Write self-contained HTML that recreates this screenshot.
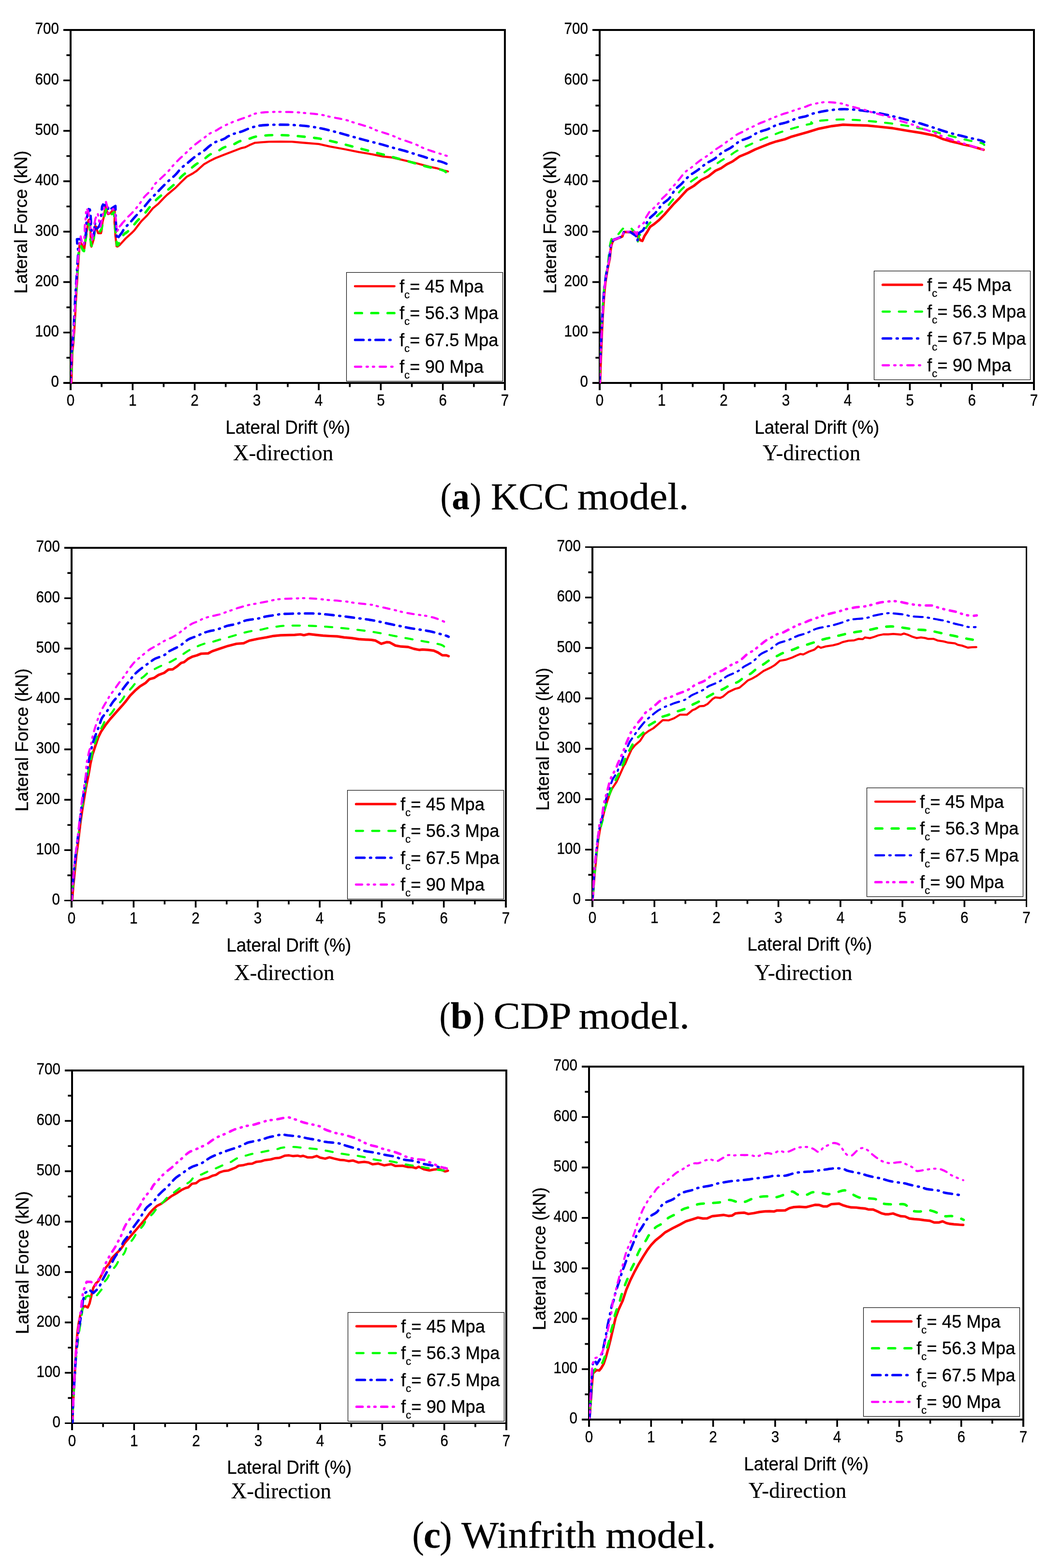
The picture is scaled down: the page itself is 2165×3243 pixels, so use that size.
<!DOCTYPE html>
<html lang="en">
<head>
<meta charset="utf-8">
<title>Lateral force versus lateral drift</title>
<style>
html,body{margin:0;padding:0;background:#fff}
body{width:2165px;height:3243px;overflow:hidden}
svg{display:block}
text{white-space:pre}
.a{font-family:"Liberation Sans",Arial,Helvetica,sans-serif;fill:#000;stroke:#000;stroke-width:.3px}
.s{font-family:"Liberation Serif","Times New Roman",Times,serif;fill:#000;stroke:#000;stroke-width:.2px}
.t{font-size:29.7px}
.l{font-size:36px}
.x{font-size:36.9px}
.y{font-size:36.7px}
.c{font-size:22px}
.d{font-size:45px}
.k{font-size:79px;stroke-width:.3px}
.ax{stroke:#000;stroke-width:3.6;fill:none;stroke-linecap:butt}
.cv{fill:none;stroke-linejoin:round;stroke-linecap:round}
</style>
</head>
<body>
<svg width="2165" height="3243" viewBox="0 0 2165 3243">
<rect width="2165" height="3243" fill="#fff"/>
<g>
<path fill="#000" d="M144 60H148V807H144ZM1042 60H1046V807H1042ZM131 60H1046V64H131ZM131 790H1046V794H131Z"/>
<path class="ax" d="M137.4 739.9h7.6M131 687.7h14M137.4 635.6h7.6M131 583.4h14M137.4 531.3h7.6M131 479.1h14M137.4 427h7.6M131 374.9h14M137.4 322.7h7.6M131 270.6h14M137.4 218.4h7.6M131 166.3h14M137.4 114.1h7.6M210.1 793v7.6M274.3 793v14M338.4 793v7.6M402.6 793v14M466.7 793v7.6M530.9 793v14M595 793v7.6M659.1 793v14M723.3 793v7.6M787.4 793v14M851.6 793v7.6M915.7 793v14M979.9 793v7.6"/>
<clipPath id="cp0"><rect x="145.9" y="62" width="898.1" height="730.9"/></clipPath>
<g class="cv" clip-path="url(#cp0)">
<path d="M147.8 791.3 L149.7 730 L152.3 704.4 L154.8 666.1 L157.4 615 L159.9 576.7 L161.9 544.7 L163.8 519.2 L164.5 502.6 L166.8 501.8 L169.8 507.1 L174.4 514.8 L176 503.3 L177.1 488 L179.8 476.5 L182.9 455.1 L185.9 453.6 L187.1 476.5 L187.8 507.1 L189 510.2 L193.6 495.7 L195.5 480.4 L197 467.3 L198.9 468.9 L201.2 478.1 L202.8 482.3 L208.9 482.3 L210.4 475 L211.9 459.7 L215 447.4 L217.3 430.6 L218.8 426 L221.1 436.7 L223.4 442.9 L228 441.3 L234.9 432.1 L237.6 429.1 L236.8 459.7 L238.7 488 L241 509.4 L243.3 509.8 L247.1 507.1 L260 493 L272 482.2 L277.9 476.3 L286.7 464.6 L292.6 457.2 L304.3 445.5 L316 430.8 L327.8 421.1 L339.5 408.8 L345.4 403 L363 388.3 L374.7 376.6 L386.4 365.4 L398.2 359 L407 353.1 L421.6 339.9 L433.4 333.1 L445.1 327.3 L462.7 320.2 L480.3 313.5 L497.9 306.7 L506.7 304.7 L515.5 300.3 L527.2 295.3 L539 294.4 L556.6 293.2 L580.1 292.9 L603.5 293.2 L624 295 L659.2 297.9 L682.7 303.2 L712 308.5 L741.4 314.4 L770.7 319.3 L791.2 323.7 L808.8 325.5 L829.4 330.2 L858.7 337 L888 344.9 L902.7 347.8 L917.4 352.5 L926.2 354.6" stroke="#ff0000" stroke-width="4.3"/>
<path d="M147 791.3 L148.9 730 L151.5 704.4 L154 666.1 L156.6 615 L159.1 576.7 L161.1 544.7 L163 519.2 L164.5 513.3 L166 507.1 L168.3 510.2 L171.4 517.9 L173.7 519.4 L176 503.3 L178.3 487.2 L179.8 476.5 L181.3 468.9 L183.6 463.5 L185.9 467.3 L185.9 488 L187.4 498 L189.7 510.2 L192 508.7 L193.6 495.7 L195.9 476.5 L197.4 475 L199.7 481.1 L203.5 481.1 L207.3 478.1 L210.4 472.7 L211.9 461.2 L214.2 453.6 L216.5 444.4 L219.6 432.9 L221.1 433.7 L222.7 441.3 L226.5 444 L230.3 443.6 L235.7 439 L237.6 461.2 L238.3 472.7 L240.3 491.8 L241.8 507.1 L244.1 507.1 L250.2 491.1 L260 481.1 L260.3 482.2 L272 471.9 C274 469.4 279.3 461.9 283.7 457 C288.2 452 294 447.3 298.4 442.4 C302.8 437.5 305.8 432.8 310.2 427.7 C314.6 422.6 319 417.1 324.8 411.6 C330.7 406 339 399.9 345.4 394.4 C351.7 389 358.1 383.6 363 378.8 C367.8 374.1 370.3 369.9 374.7 365.6 C379.1 361.4 384.5 357.4 389.4 353.3 C394.3 349.1 398.7 344.9 404 340.9 C409.4 336.9 416.7 333 421.6 329.5 C426.5 326.1 428.5 323 433.4 320.1 C438.3 317.2 446.1 314.7 451 312.2 C455.9 309.7 457.3 307.4 462.7 305.1 C468.1 302.9 477.9 300.7 483.2 298.5 C488.6 296.4 489.6 294.3 495 292.4 C500.4 290.4 510.1 288.5 515.5 286.9 C520.9 285.4 522.4 283.9 527.2 282.9 C532.1 281.8 539 281.1 544.8 280.5 C550.7 280 556.6 279.7 562.4 279.5 C568.3 279.3 574.2 279.4 580.1 279.5 C585.9 279.6 590.8 279.7 597.6 280.1 C604.4 280.6 611.3 281 621.1 282 C630.9 283 645 284.3 656.3 286.1 C667.5 287.9 677.8 290.2 688.5 292.7 C699.3 295.2 710.1 298.1 720.8 300.9 C731.6 303.7 742.3 306.6 753.1 309.4 C763.8 312.3 774.6 315.1 785.4 317.9 C796.1 320.7 806.9 323.5 817.6 326.4 C828.4 329.3 839.1 332.4 849.9 335.4 C860.7 338.4 871.4 341.8 882.2 344.5 C892.9 347.3 907.8 349.8 914.4 351.7 C921 353.6 920.6 355.3 921.8 356" stroke="#00ff00" stroke-width="5.1" stroke-dasharray="14.10 19.50" stroke-dashoffset="14.3"/>
<path d="M146 791.3 L147.9 730 L150.5 704.4 L153 666.1 L155.6 615 L158.1 576.7 L160.1 544.7 L162 519.2 L159.9 507.1 L159.1 494.9 L166 494.5 L173.7 504.8 L176 490.3 L177.5 484.2 L178.3 467.3 L179.8 449 L182.9 438.3 L184.4 427.2 L186.7 438.3 L187.4 447.4 L188.2 459.7 L187.4 471.2 L190.5 480.4 L193.6 487.2 L195.1 478.1 L195.9 459.7 L198.2 471.9 L200.5 472.7 L205.1 468.1 L208.9 458.2 L209.3 442.9 L211.2 426.8 L213.1 423 L215.4 425.3 L220.4 422.2 L223.4 424.5 L223.8 435.2 L238.7 426 L239.5 458.2 L241 482.7 L241.8 494.9 L252.5 480.4 L257.3 471.9 L269.1 460.2 C271 457.9 276.4 451.6 280.8 446.8 C285.2 441.9 290.6 436.7 295.5 431.1 C300.4 425.5 304.8 419.4 310.2 413.4 C315.5 407.4 321.9 401 327.8 395 C333.6 388.9 339.5 382.8 345.4 377.1 C351.2 371.5 358.1 366.2 363 361.3 C367.8 356.4 370.3 352.1 374.7 347.9 C379.1 343.6 384.5 339.9 389.4 335.8 C394.3 331.8 398.7 327.6 404 323.6 C409.4 319.6 416.7 315.4 421.6 311.8 C426.5 308.2 429.5 304.8 433.4 301.9 C437.3 298.9 440.2 296.4 445.1 294 C450 291.6 458.3 289.5 462.7 287.5 C467.1 285.5 468.1 283.9 471.5 282.1 C474.9 280.3 478.3 278.7 483.2 276.9 C488.1 275.2 496 273.3 500.8 271.6 C505.7 269.9 508.7 268.1 512.6 266.6 C516.5 265.1 520.4 263.7 524.3 262.6 C528.2 261.5 531.6 260.6 536 259.9 C540.4 259.3 545.8 258.9 550.7 258.6 C555.6 258.2 560.5 258.1 565.4 258 C570.3 257.9 574.7 257.9 580.1 257.9 C585.4 257.9 592.7 258 597.6 258.1 C602.5 258.3 604 258.4 609.3 258.8 C614.7 259.1 623 259.6 629.9 260.3 C636.7 261 643.6 261.9 650.4 263.1 C657.3 264.2 664.1 265.6 670.9 267.1 C677.8 268.7 684.6 270.4 691.5 272.2 C698.3 274 705.2 275.9 712 277.9 C718.9 279.8 725.7 281.8 732.6 283.7 C739.4 285.7 746.2 287.5 753.1 289.4 C759.9 291.2 766.8 292.9 773.6 294.7 C780.5 296.4 787.6 298.2 794.2 300.1 C800.8 302 806.4 303.9 813.2 305.8 C820.1 307.7 828.4 309.6 835.2 311.5 C842.1 313.5 847.7 315.4 854.3 317.5 C860.9 319.5 868.2 321.7 874.8 323.8 C881.4 325.9 887.3 328.1 893.9 330 C900.5 331.9 909.5 333.6 914.4 335.1 C919.4 336.6 922.3 338.4 923.8 339" stroke="#0000ff" stroke-width="5.1" stroke-dasharray="17.40 11.50 2.10 11.20" stroke-dashoffset="7.0"/>
<path d="M146.6 791.3 L148.5 730 L151.1 704.4 L153.6 666.1 L156.2 615 L158.7 576.7 L160.7 544.7 L162.6 519.2 L164.5 510.2 L166.8 488.8 L169.1 499.5 L172.9 507.1 L175.2 482.7 L175.2 468.9 L176.7 457.4 L177.5 444.4 L178.3 430.6 L181.3 434.4 L184.4 446.7 L185.9 460.5 L187.4 472.7 L189 484.2 L191.3 491.8 L189.7 498 L193.6 476.5 L195.1 463.5 L197.4 452 L202 441.3 L204.3 452 L205.8 465.1 L208.1 468.9 L211.2 453.6 L213.5 439.8 L215.8 429.1 L219.2 417.6 L222.3 429.1 L224.2 441.3 L234.1 432.1 L237.6 439 L239.5 452 L241 468.9 L241.8 478.8 L247.1 470.4 L254.4 459.7 L245.6 470.4 L254.4 460.2 L263.2 449.9 C264.7 448.5 269.1 444.4 272 441.4 C274.9 438.3 277.9 435.1 280.8 431.6 C283.7 428 286.7 424.2 289.6 420.1 C292.6 416.1 294.8 411.7 298.4 407.3 C302.1 402.9 308 398.3 311.6 393.9 C315.3 389.4 316.8 385.1 320.4 380.8 C324.1 376.5 329.2 372.2 333.6 368 C338 363.8 342.9 359.6 346.8 355.5 C350.7 351.4 353.4 347.4 357.1 343.3 C360.8 339.2 364.7 335 368.8 330.9 C373 326.8 377.9 322.7 382 318.7 C386.2 314.8 389.6 311 393.8 307.3 C397.9 303.5 402.3 299.8 407 296.2 C411.6 292.5 417.2 288.8 421.6 285.5 C426 282.2 429 279.1 433.4 276.4 C437.8 273.7 444.1 271.5 448 269.3 C451.9 267.2 453.7 265.6 456.8 263.8 C460 262 463.2 260.4 467.1 258.6 C471 256.8 475.2 254.9 480.3 252.8 C485.4 250.8 492 248.5 497.9 246.3 C503.8 244.2 510.6 241.8 515.5 239.9 C520.4 238 522.4 236.3 527.2 235.1 C532.1 233.9 538.5 233.1 544.8 232.5 C551.2 232 559.5 231.7 565.4 231.5 C571.2 231.3 574.7 231.3 580.1 231.3 C585.4 231.4 591.5 231.5 597.6 231.7 C603.7 231.9 611.3 232.1 616.7 232.5 C622 232.8 624.5 233.2 629.9 233.7 C635.3 234.2 642.7 234.7 648.9 235.4 C655.2 236.1 661.9 236.9 667.1 237.9 C672.4 238.8 675.1 239.9 680.3 241.1 C685.6 242.2 692.7 243.4 698.8 244.7 C704.9 246 711.8 247.2 717 248.6 C722.2 250 725.1 251.4 730.2 253 C735.3 254.7 741.9 256.5 747.8 258.3 C753.7 260.1 760.6 262.1 765.7 264 C770.8 265.9 773.4 267.8 778.6 269.7 C783.8 271.7 791.3 273.7 797.1 275.6 C802.9 277.5 808.6 279.5 813.5 281.4 C818.4 283.3 821.3 285 826.4 287 C831.5 288.9 838.2 290.9 844 293 C849.9 295.1 856.4 297.3 861.6 299.5 C866.8 301.7 869.8 303.9 875.1 306.1 C880.4 308.3 887.3 310.6 893.3 312.6 C899.4 314.7 906.2 316.7 911.5 318.4 C916.8 320.1 923 322.1 925.3 322.9" stroke="#ff00ff" stroke-width="4.3" stroke-dasharray="13.20 10.80 2.90 10.10 2.90 11.20" stroke-dashoffset="5.8"/>
</g>
<text class="a t" transform="translate(122 800.4) scale(1 1.13)" text-anchor="end">0</text>
<text class="a t" transform="translate(122 696.1) scale(1 1.13)" text-anchor="end">100</text>
<text class="a t" transform="translate(122 591.8) scale(1 1.13)" text-anchor="end">200</text>
<text class="a t" transform="translate(122 487.5) scale(1 1.13)" text-anchor="end">300</text>
<text class="a t" transform="translate(122 383.3) scale(1 1.13)" text-anchor="end">400</text>
<text class="a t" transform="translate(122 279) scale(1 1.13)" text-anchor="end">500</text>
<text class="a t" transform="translate(122 174.7) scale(1 1.13)" text-anchor="end">600</text>
<text class="a t" transform="translate(122 70.4) scale(1 1.13)" text-anchor="end">700</text>
<text class="a t" transform="translate(146 839.4) scale(1 1.13)" text-anchor="middle">0</text>
<text class="a t" transform="translate(274.3 839.4) scale(1 1.13)" text-anchor="middle">1</text>
<text class="a t" transform="translate(402.6 839.4) scale(1 1.13)" text-anchor="middle">2</text>
<text class="a t" transform="translate(530.9 839.4) scale(1 1.13)" text-anchor="middle">3</text>
<text class="a t" transform="translate(659.1 839.4) scale(1 1.13)" text-anchor="middle">4</text>
<text class="a t" transform="translate(787.4 839.4) scale(1 1.13)" text-anchor="middle">5</text>
<text class="a t" transform="translate(915.7 839.4) scale(1 1.13)" text-anchor="middle">6</text>
<text class="a t" transform="translate(1044 839.4) scale(1 1.13)" text-anchor="middle">7</text>
<text class="a x" transform="translate(595.3 896.8) scale(1 1.03)" text-anchor="middle">Lateral Drift (%)</text>
<text class="a y" transform="translate(56 459.3) rotate(-90) scale(1 1.03)" text-anchor="middle">Lateral Force (kN)</text>
<rect x="716.5" y="563.5" width="323" height="225" fill="#fff" stroke="#000" stroke-width="1.15"/>
<path class="cv" d="M733.9 592 h81.9" stroke="#ff0000" stroke-width="4.3"/>
<text class="a l" transform="translate(826 604.5) scale(1.012 1.04)">f<tspan class="c" dy="11.7">c</tspan><tspan dy="-11.7">= 45 Mpa</tspan></text>
<path class="cv" d="M734.3 647.5 h81.1" stroke="#00ff00" stroke-width="5.1" stroke-dasharray="14.10 19.50"/>
<text class="a l" transform="translate(826 660) scale(1.012 1.04)">f<tspan class="c" dy="11.7">c</tspan><tspan dy="-11.7">= 56.3 Mpa</tspan></text>
<path class="cv" d="M734.3 703 h73.2" stroke="#0000ff" stroke-width="5.1" stroke-dasharray="17.40 11.50 2.10 11.20"/>
<text class="a l" transform="translate(826 715.5) scale(1.012 1.04)">f<tspan class="c" dy="11.7">c</tspan><tspan dy="-11.7">= 67.5 Mpa</tspan></text>
<path class="cv" d="M733.9 758.5 h77.9" stroke="#ff00ff" stroke-width="4.3" stroke-dasharray="13.20 10.80 2.90 10.10 2.90 11.20"/>
<text class="a l" transform="translate(826 771) scale(1.012 1.04)">f<tspan class="c" dy="11.7">c</tspan><tspan dy="-11.7">= 90 Mpa</tspan></text>
<text class="s d" transform="translate(481.9 951.9) scale(1 1.035)">X-direction</text>
</g>
<g>
<path fill="#000" d="M1238 60H1242V807H1238ZM2136 60H2140V807H2136ZM1225 60H2140V64H1225ZM1225 790H2140V794H1225Z"/>
<path class="ax" d="M1231.4 739.9h7.6M1225 687.7h14M1231.4 635.6h7.6M1225 583.4h14M1231.4 531.3h7.6M1225 479.1h14M1231.4 427h7.6M1225 374.9h14M1231.4 322.7h7.6M1225 270.6h14M1231.4 218.4h7.6M1225 166.3h14M1231.4 114.1h7.6M1304.1 793v7.6M1368.3 793v14M1432.4 793v7.6M1496.6 793v14M1560.7 793v7.6M1624.9 793v14M1689 793v7.6M1753.1 793v14M1817.3 793v7.6M1881.4 793v14M1945.6 793v7.6M2009.7 793v14M2073.9 793v7.6"/>
<clipPath id="cp1"><rect x="1239.9" y="62" width="898.1" height="730.9"/></clipPath>
<g class="cv" clip-path="url(#cp1)">
<path d="M1240.8 791.1 L1241.6 762 L1243.1 723.6 L1244.7 685.3 L1246.2 654.7 L1247.7 631.7 L1249.3 608.7 L1251.6 585.7 L1253.9 570.3 L1256.2 556.5 L1258.5 545.8 L1260.8 535.1 L1262.3 519.7 L1263.8 509 L1266.1 501.3 L1269.2 496 L1276.1 493.7 L1286.8 489.1 L1290.1 479.8 L1312.1 479.8 L1318 488 L1323.9 496.8 L1328.3 498.3 L1332.7 488 L1338.5 479.2 L1344.4 469 L1353.2 463.1 L1362 455.8 L1373.7 444 L1382.6 433.8 L1394.3 420.6 L1406 408.8 L1420.7 392.7 L1435.4 383.9 L1450 372.2 L1464.7 364.8 L1479.4 353.1 L1491.1 347.8 L1502.8 339.9 L1514.6 334 L1529.2 323.7 L1546.8 316.4 L1561.5 309.1 L1576.2 303.2 L1590.8 297.3 L1605.5 292.4 L1623.1 288 L1634.8 283.3 L1652.4 278.3 L1670.1 273.3 L1693.5 266.1 L1719.9 260.8 L1743.3 257.9 L1766.8 258.8 L1793.2 259.6 L1816.7 262 L1846 265.2 L1875.4 270.2 L1904.7 274.9 L1922.3 278.4 L1934 280.8 L1948.7 287.2 L1963.4 291.6 L1978 295.1 L1992.7 299 L2007.4 301.9 L2022 306.3 L2033.8 309.8" stroke="#ff0000" stroke-width="5.2"/>
<path d="M1239.5 791.1 L1240.3 762 L1241.8 723.6 L1243.4 685.3 L1244.9 654.7 L1246.4 631.7 L1248 608.7 L1250.3 585.7 L1252.6 570.3 L1254.9 556.5 L1257.2 545.8 L1259.2 525.9 L1260.2 513.6 L1262.5 501.3 L1265.6 490.6 L1277.9 485.2 L1287.8 473 L1303.9 470.7 L1312.4 480.2 L1314.7 490.6 L1318.5 501.3 L1321.6 487.5 L1331.5 478.3 L1339.2 466.1 L1351.7 452.8 C1353.9 450.9 1360.5 445.2 1364.9 441.2 C1369.3 437.2 1374.2 433.1 1378.2 429 C1382.1 424.9 1385 420.7 1388.4 416.6 C1391.8 412.5 1395.3 408.4 1398.7 404.4 C1402.1 400.3 1405 396.2 1409 392.2 C1412.9 388.2 1417.5 384.2 1422.2 380.5 C1426.8 376.8 1431.9 373.3 1436.8 369.9 C1441.7 366.5 1446.8 363.4 1451.5 360.2 C1456.1 357 1460.3 354 1464.7 350.9 C1469.1 347.8 1473.5 344.8 1477.9 341.7 C1482.3 338.6 1486.2 335.5 1491.1 332.4 C1496 329.3 1502.3 326.2 1507.2 323.1 C1512.1 320.1 1515.5 317 1520.4 314 C1525.3 311.1 1531.2 308.2 1536.6 305.6 C1541.9 302.9 1547.6 300.5 1552.7 298.2 C1557.8 295.8 1562.2 293.7 1567.4 291.5 C1572.5 289.3 1578.1 287.1 1583.5 285 C1588.9 282.9 1594.5 280.9 1599.6 278.9 C1604.8 277 1609.2 275.1 1614.3 273.3 C1619.4 271.6 1625.1 269.9 1630.4 268.3 C1635.8 266.6 1641.2 265 1646.6 263.5 C1652 261.9 1657.3 260.4 1662.7 259.1 C1668.1 257.7 1676.2 256.6 1678.9 255.5 C1681.5 254.4 1674.7 253.4 1678.8 252.3 C1682.9 251.2 1694 249.8 1703.7 249 C1713.5 248.1 1726.5 247.4 1737.5 247.2 C1748.5 247.1 1758.7 247.6 1769.7 248.2 C1780.7 248.8 1792.2 249.9 1803.5 251 C1814.7 252 1826 253.3 1837.2 254.7 C1848.5 256.1 1860 257.7 1871 259.5 C1882 261.3 1892.5 263.4 1903.2 265.7 C1914 267.9 1924.7 270.6 1935.5 273.2 C1946.3 275.9 1957 279 1967.8 281.7 C1978.5 284.4 1989.8 287.4 2000 289.7 C2010.3 292.1 2023.5 294.2 2029.4 295.9 C2035.2 297.5 2034.3 299.2 2035.2 299.8" stroke="#00ff00" stroke-width="4.3" stroke-dasharray="14.90 18.70" stroke-dashoffset="18.9"/>
<path d="M1240 791.1 L1240.8 762 L1242.3 723.6 L1243.9 685.3 L1245.4 654.7 L1246.9 631.7 L1248.5 608.7 L1250.8 585.7 L1253.1 570.3 L1255.4 556.5 L1257.7 545.8 L1260 535.1 L1261.5 519.7 L1263 509 L1265.3 501.3 L1268.4 496 L1275.3 493.7 L1286 489.1 L1290.1 479.8 L1303.3 479.8 L1315.1 488 L1318 498.3 L1320.9 482.2 L1329.7 476.3 L1335.6 464.6 L1341.5 452.8 L1354.7 441.1 C1355.9 439.6 1359.6 435.3 1362 432.2 C1364.5 429.1 1365.9 425.7 1369.3 422.3 C1372.8 418.9 1379.1 415.3 1382.6 411.8 C1386 408.3 1387.4 404.8 1389.9 401.3 C1392.3 397.9 1394 394.4 1397.2 390.9 C1400.4 387.4 1405.5 383.9 1409 380.5 C1412.4 377.2 1414.6 374 1417.8 370.8 C1420.9 367.7 1424.1 364.7 1428 361.7 C1431.9 358.8 1437.3 355.8 1441.2 353 C1445.1 350.3 1448.1 347.6 1451.5 345 C1454.9 342.3 1457.6 339.8 1461.8 337.1 C1465.9 334.5 1472.4 331.8 1476.4 329.2 C1480.4 326.6 1482.6 324.1 1485.8 321.5 C1489 319 1491.4 316.6 1495.5 314 C1499.6 311.4 1506 308.8 1510.2 306.2 C1514.3 303.6 1517 301 1520.4 298.6 C1523.9 296.1 1526.1 293.7 1530.7 291.5 C1535.3 289.2 1543.7 287 1548.3 284.9 C1552.9 282.8 1555.1 280.8 1558.6 278.8 C1562 276.9 1564.2 275 1568.8 273.2 C1573.5 271.3 1581.8 269.5 1586.4 267.7 C1591.1 266 1593 264.2 1596.7 262.6 C1600.4 260.9 1603.6 259.3 1608.4 257.7 C1613.3 256.2 1621.2 254.6 1626 253.1 C1630.9 251.6 1634.1 250.1 1637.8 248.7 C1641.4 247.2 1643.2 245.9 1648 244.5 C1652.9 243.1 1662.1 241.7 1667.1 240.2 C1672.1 238.8 1673.1 237.2 1678.2 235.7 C1683.3 234.2 1691 232.5 1697.9 231.1 C1704.7 229.7 1712.2 228.3 1719.3 227.5 C1726.4 226.6 1733.5 226 1740.4 225.9 C1747.4 225.7 1754.1 225.9 1760.9 226.4 C1767.8 226.8 1774.4 227.6 1781.5 228.5 C1788.6 229.4 1796.4 230.5 1803.5 231.6 C1810.6 232.8 1817.1 234.1 1824 235.5 C1831 236.9 1838.1 238.5 1845.1 240.2 C1852.1 241.8 1859.1 243.6 1866 245.4 C1872.9 247.2 1879.6 249 1886.5 250.8 C1893.4 252.7 1900.8 254.6 1907.6 256.7 C1914.5 258.7 1921 261 1927.6 263.1 C1934.2 265.3 1940.6 267.6 1947.2 269.7 C1953.8 271.8 1960.3 273.8 1967.2 275.7 C1974 277.6 1981.4 279.4 1988.3 281.1 C1995.2 282.8 2002.3 284.5 2008.8 286 C2015.3 287.6 2022.9 289 2027.3 290.3 C2031.7 291.5 2033.9 293.1 2035.2 293.7" stroke="#0000ff" stroke-width="5.1" stroke-dasharray="17.40 11.50 2.10 11.20" stroke-dashoffset="0.3"/>
<path d="M1240.3 791.1 L1241.1 762 L1242.6 723.6 L1244.2 685.3 L1245.7 654.7 L1247.2 631.7 L1248.8 608.7 L1251.1 585.7 L1253.4 570.3 L1255.7 556.5 L1258 545.8 L1260.3 535.1 L1261.8 519.7 L1263.3 509 L1265.6 501.3 L1268.7 496 L1275.6 493.7 L1286.3 489.1 L1290.1 479.2 L1312.1 479.2 L1316.5 485.1 L1319.5 471.9 L1323.3 464.6 L1331.2 461.6 L1335.6 449.9 L1342.9 438.2 L1350.3 431.7 C1352 430.1 1357.6 425.2 1360.5 421.9 C1363.5 418.6 1364.9 415.4 1367.9 412.1 C1370.8 408.9 1375.2 405.6 1378.2 402.2 C1381.1 398.9 1382.7 395.5 1385.5 392.2 C1388.3 388.8 1391.9 385.5 1394.9 382.2 C1397.8 378.9 1400.5 375.7 1403.1 372.5 C1405.7 369.4 1407.9 366.3 1410.4 363.3 C1413 360.3 1415.1 357.4 1418.3 354.5 C1421.6 351.7 1426.5 348.9 1430.1 346.1 C1433.6 343.4 1436.4 340.7 1439.8 338.1 C1443.1 335.5 1446.4 332.9 1450 330.3 C1453.7 327.8 1458.1 325.3 1461.8 322.8 C1465.4 320.3 1468.6 317.7 1472 315.2 C1475.5 312.6 1478.6 310 1482.3 307.5 C1486 304.9 1490.5 302.5 1494 300 C1497.6 297.6 1500.1 295.2 1503.4 292.8 C1506.7 290.4 1510.7 287.9 1514 285.6 C1517.3 283.2 1519.6 280.8 1523.4 278.6 C1527.1 276.3 1532.5 274.2 1536.6 272.1 C1540.6 270 1543.8 268.1 1547.7 266.1 C1551.6 264.2 1556.3 262.3 1560 260.5 C1563.8 258.7 1566.4 257 1570.3 255.3 C1574.2 253.6 1579.4 252 1583.5 250.3 C1587.6 248.6 1590.7 246.9 1594.7 245.3 C1598.6 243.6 1603 242 1607 240.4 C1611 238.9 1614.6 237.4 1618.7 236 C1622.9 234.6 1627.9 233.3 1631.9 231.9 C1636 230.6 1639.1 229.2 1643.1 227.9 C1647.1 226.5 1652 225.1 1656 223.9 C1660 222.6 1663.8 221.5 1667.1 220.3 C1670.4 219.1 1671.8 217.9 1675.9 216.7 C1679.9 215.6 1686.5 214.2 1691.4 213.3 C1696.3 212.4 1699.8 211.6 1705.2 211.3 C1710.6 211.1 1717.5 211.4 1723.7 212 C1729.9 212.5 1737.2 213.6 1742.5 214.7 C1747.7 215.8 1750 217.3 1755.1 218.7 C1760.1 220.2 1766.7 221.9 1772.7 223.5 C1778.6 225 1785.6 226.6 1790.9 228.1 C1796.1 229.7 1798.8 231.1 1804.1 232.7 C1809.3 234.2 1816.5 235.8 1822.6 237.5 C1828.6 239.1 1835.1 240.7 1840.2 242.4 C1845.2 244.1 1847.6 245.7 1852.8 247.4 C1857.9 249.2 1864.9 251 1871 252.8 C1877 254.6 1883.7 256.5 1888.9 258.4 C1894 260.3 1896.5 262.1 1901.8 264.1 C1907 266.1 1914.3 268.2 1920.2 270.3 C1926.2 272.3 1932.6 274.5 1937.6 276.6 C1942.5 278.6 1945.1 280.7 1950.2 282.7 C1955.2 284.7 1961.9 286.7 1967.8 288.6 C1973.6 290.5 1980.1 292.4 1985.4 294.1 C1990.6 295.9 1994 297.4 1999.2 299.1 C2004.3 300.8 2010.4 302.4 2016.2 304.2 C2021.9 306 2030.8 308.9 2033.8 309.8" stroke="#ff00ff" stroke-width="4.3" stroke-dasharray="13.20 10.80 2.90 10.10 2.90 11.20" stroke-dashoffset="9.2"/>
</g>
<text class="a t" transform="translate(1216 800.4) scale(1 1.13)" text-anchor="end">0</text>
<text class="a t" transform="translate(1216 696.1) scale(1 1.13)" text-anchor="end">100</text>
<text class="a t" transform="translate(1216 591.8) scale(1 1.13)" text-anchor="end">200</text>
<text class="a t" transform="translate(1216 487.5) scale(1 1.13)" text-anchor="end">300</text>
<text class="a t" transform="translate(1216 383.3) scale(1 1.13)" text-anchor="end">400</text>
<text class="a t" transform="translate(1216 279) scale(1 1.13)" text-anchor="end">500</text>
<text class="a t" transform="translate(1216 174.7) scale(1 1.13)" text-anchor="end">600</text>
<text class="a t" transform="translate(1216 70.4) scale(1 1.13)" text-anchor="end">700</text>
<text class="a t" transform="translate(1240 839.4) scale(1 1.13)" text-anchor="middle">0</text>
<text class="a t" transform="translate(1368.3 839.4) scale(1 1.13)" text-anchor="middle">1</text>
<text class="a t" transform="translate(1496.6 839.4) scale(1 1.13)" text-anchor="middle">2</text>
<text class="a t" transform="translate(1624.9 839.4) scale(1 1.13)" text-anchor="middle">3</text>
<text class="a t" transform="translate(1753.1 839.4) scale(1 1.13)" text-anchor="middle">4</text>
<text class="a t" transform="translate(1881.4 839.4) scale(1 1.13)" text-anchor="middle">5</text>
<text class="a t" transform="translate(2009.7 839.4) scale(1 1.13)" text-anchor="middle">6</text>
<text class="a t" transform="translate(2138 839.4) scale(1 1.13)" text-anchor="middle">7</text>
<text class="a x" transform="translate(1689.3 896.8) scale(1 1.03)" text-anchor="middle">Lateral Drift (%)</text>
<text class="a y" transform="translate(1150 459.3) rotate(-90) scale(1 1.03)" text-anchor="middle">Lateral Force (kN)</text>
<rect x="1807.5" y="560.5" width="323" height="225" fill="#fff" stroke="#000" stroke-width="1.15"/>
<path class="cv" d="M1825.4 589 h81" stroke="#ff0000" stroke-width="5.2"/>
<text class="a l" transform="translate(1917 601.5) scale(1.012 1.04)">f<tspan class="c" dy="11.7">c</tspan><tspan dy="-11.7">= 45 Mpa</tspan></text>
<path class="cv" d="M1825 644.5 h81.9" stroke="#00ff00" stroke-width="4.3" stroke-dasharray="14.90 18.70"/>
<text class="a l" transform="translate(1917 657) scale(1.012 1.04)">f<tspan class="c" dy="11.7">c</tspan><tspan dy="-11.7">= 56.3 Mpa</tspan></text>
<path class="cv" d="M1825.3 700 h73.2" stroke="#0000ff" stroke-width="5.1" stroke-dasharray="17.40 11.50 2.10 11.20"/>
<text class="a l" transform="translate(1917 712.5) scale(1.012 1.04)">f<tspan class="c" dy="11.7">c</tspan><tspan dy="-11.7">= 67.5 Mpa</tspan></text>
<path class="cv" d="M1825 755.5 h77.9" stroke="#ff00ff" stroke-width="4.3" stroke-dasharray="13.20 10.80 2.90 10.10 2.90 11.20"/>
<text class="a l" transform="translate(1917 768) scale(1.012 1.04)">f<tspan class="c" dy="11.7">c</tspan><tspan dy="-11.7">= 90 Mpa</tspan></text>
<text class="s d" transform="translate(1576.9 951.9) scale(1 1.035)">Y-direction</text>
</g>
<g>
<path fill="#000" d="M146 1131H150V1877H146ZM1044 1131H1048V1877H1044ZM133 1131H1048V1135H133ZM133 1861H1048V1864H133Z"/>
<path class="ax" d="M139.4 1810.4h7.6M133 1758.3h14M139.4 1706.2h7.6M133 1654.1h14M139.4 1602h7.6M133 1549.9h14M139.4 1497.8h7.6M133 1445.6h14M139.4 1393.5h7.6M133 1341.4h14M139.4 1289.3h7.6M133 1237.2h14M139.4 1185.1h7.6M212.1 1863v7.6M276.3 1863v14M340.4 1863v7.6M404.6 1863v14M468.7 1863v7.6M532.9 1863v14M597 1863v7.6M661.1 1863v14M725.3 1863v7.6M789.4 1863v14M853.6 1863v7.6M917.7 1863v14M981.9 1863v7.6"/>
<clipPath id="cp2"><rect x="147.9" y="1133" width="898.1" height="730.4"/></clipPath>
<g class="cv" clip-path="url(#cp2)">
<path d="M149.2 1861.1 L151.5 1832 L154.6 1801.3 L157.6 1770.6 L160.7 1747.6 L163.8 1721.6 L166.8 1697.1 L170.7 1671 L174.5 1648 L177.6 1629.6 L180.6 1614.3 L183.7 1598.9 L186.9 1580 L191.3 1560.3 L197.2 1542.7 L203.1 1525.1 L208.9 1513.4 L217.7 1500.2 L228 1487 L239.7 1473.8 L251.5 1460.6 L260.3 1450.3 L269.1 1438.6 L279.3 1428.3 L289.6 1419.5 L301.4 1412.2 L308.7 1404.8 L319 1401.9 L327.8 1396 L339.5 1391.6 L348.3 1384.9 L357.1 1384.3 L365.9 1378.4 L374.7 1371.1 L380.6 1369.6 L389.4 1362.3 L398.2 1357.9 L407 1355.5 L415.8 1352 L430.4 1351.4 L439.2 1346.7 L453.9 1341.7 L471.5 1335.9 L489.1 1331.5 L503.8 1330.3 L515.5 1325 L533.1 1321.2 L550.7 1318.3 L565.4 1315.3 L580.1 1313.9 L609.3 1313.1 L621.1 1312 L628.4 1313.7 L638.7 1311.4 L653.3 1313.1 L668 1314.6 L682.7 1315.5 L697.3 1316.1 L712 1318.4 L726.7 1319.6 L741.4 1321.9 L756 1322.8 L767.8 1323.4 L776.6 1324.9 L788.3 1331.6 L800 1328.1 L805.9 1328.7 L817.6 1335.1 L829.4 1337.2 L844 1338.1 L855.8 1341.9 L867.5 1344.2 L873.4 1343.4 L885.1 1344.2 L896.8 1345.7 L905.6 1349.5 L914.4 1355.1 L923.2 1355.4 L927.6 1357.1" stroke="#ff0000" stroke-width="5.2"/>
<path d="M148.4 1861.1 L150.7 1832 L153.5 1801.3 L156.6 1770.6 L159.6 1747.6 L162.7 1721.6 L166.1 1697.1 L169.6 1671 L173.4 1648 L176.8 1626.5 L179.6 1612.7 L183.7 1586.7 L186.4 1580 L190.5 1557.4 L195.2 1541.2 L200.1 1526.6 C201.3 1524 204.7 1515.8 206.9 1511.2 C209.1 1506.5 211.3 1502.7 213.3 1498.7 C215.4 1494.7 216.3 1491.4 219.2 1487.3 C222.1 1483.3 227.5 1478.8 230.9 1474.5 C234.4 1470.2 236.3 1465.9 239.7 1461.7 C243.2 1457.4 248.1 1453.2 251.5 1448.8 C254.9 1444.5 256.9 1440 260.3 1435.6 C263.7 1431.3 268.3 1426.9 272 1422.8 C275.7 1418.6 278.1 1414.6 282.3 1410.7 C286.4 1406.8 292.8 1402.8 297 1399.5 C301.1 1396.1 303.3 1393.1 307.2 1390.4 C311.1 1387.8 315.8 1385.8 320.4 1383.5 C325.1 1381.1 329.7 1378.7 335.1 1376.3 C340.5 1373.8 347.6 1371.2 352.7 1368.7 C357.8 1366.2 361.5 1363.9 365.9 1361.3 C370.3 1358.6 374.7 1355.6 379.1 1352.7 C383.5 1349.9 387.4 1346.7 392.3 1344 C397.2 1341.3 403.3 1338.8 408.4 1336.7 C413.6 1334.5 417.7 1332.8 423.1 1331.2 C428.5 1329.6 435.3 1328.5 440.7 1327.1 C446.1 1325.6 450 1324.1 455.4 1322.6 C460.7 1321.1 467.3 1319.4 473 1317.8 C478.6 1316.2 483.7 1314.6 489.1 1313.1 C494.5 1311.5 500.1 1309.7 505.2 1308.4 C510.4 1307.1 514.3 1306.2 519.9 1305.1 C525.5 1304.1 533.4 1303.4 539 1302.4 C544.6 1301.3 548.3 1300.1 553.6 1299.1 C559 1298 565.6 1296.9 571.2 1296.1 C576.9 1295.3 580.5 1294.7 587.4 1294.3 C594.2 1293.9 602.5 1293.8 612.3 1293.8 C622 1293.8 634.8 1294.1 646 1294.5 C657.3 1295 668.5 1295.7 679.7 1296.6 C691 1297.4 702.2 1298.5 713.5 1299.6 C724.7 1300.8 736 1302.1 747.2 1303.6 C758.5 1305.1 770 1306.7 781 1308.6 C792 1310.4 802.5 1312.7 813.2 1314.8 C824 1316.8 834.6 1318.9 845.5 1320.9 C856.4 1322.9 867.6 1324.9 878.4 1326.9 C889.1 1328.8 903.3 1331.1 910 1332.9 C916.8 1334.6 917.4 1336.7 918.8 1337.5" stroke="#00ff00" stroke-width="4.3" stroke-dasharray="14.90 18.70" stroke-dashoffset="8.5"/>
<path d="M148.4 1861.1 L150.4 1832 L153 1801.3 L156.1 1770.6 L159.2 1747.6 L161.9 1724.7 L165.3 1697.1 L168.4 1671 L171.4 1651.1 L174.5 1632.7 L177.6 1608.1 L180.6 1591.3 L182.5 1580 L185.5 1563.2 L188.4 1551.5 L191.3 1538.3 L195.7 1525.1 L201.6 1510.4 C202.3 1508.4 204.5 1502.4 206 1498.3 C207.5 1494.2 208.2 1489.9 210.4 1485.9 C212.6 1481.8 216.5 1477.8 219.2 1474 C221.9 1470.1 224.1 1466.6 226.5 1462.8 C229 1459 230.9 1455.1 233.9 1451.2 C236.8 1447.3 241.2 1443.2 244.1 1439.4 C247.1 1435.7 248.9 1432.2 251.5 1428.6 C254.1 1424.9 256.8 1421.3 259.7 1417.6 C262.6 1413.9 266.1 1409.8 269.1 1406.2 C272 1402.6 274.1 1399.2 277.3 1395.8 C280.5 1392.4 284.1 1389.1 288.2 1385.8 C292.2 1382.4 297.3 1378.8 301.4 1375.9 C305.4 1372.9 308.8 1370.3 312.2 1367.9 C315.6 1365.6 317.3 1364 321.9 1361.8 C326.4 1359.7 335.2 1357.3 339.5 1355 C343.7 1352.8 344.2 1350.4 347.4 1348.3 C350.6 1346.3 354.5 1344.5 358.6 1342.5 C362.6 1340.4 368.1 1338.2 371.8 1336 C375.4 1333.7 377.4 1331.4 380.6 1329.1 C383.7 1326.7 386.2 1324.1 390.8 1321.8 C395.5 1319.5 403.8 1316.9 408.4 1315 C413.1 1313 415 1311.5 418.7 1310 C422.4 1308.5 425.5 1307.4 430.4 1306.1 C435.3 1304.8 443.2 1303.5 448 1302.1 C452.8 1300.8 455.5 1299.6 459.2 1298.3 C462.9 1297 465.1 1295.7 470 1294.4 C475 1293 484.2 1291.7 489.1 1290.3 C494 1289 495.9 1287.7 499.4 1286.4 C502.9 1285.2 505.1 1283.9 510.2 1282.8 C515.4 1281.7 525 1280.7 530.2 1279.8 C535.3 1279 537.5 1278.4 541 1277.5 C544.6 1276.6 546.3 1275.7 551.3 1274.7 C556.3 1273.8 566.1 1272.6 571.2 1271.8 C576.4 1271 577 1270.3 582.4 1269.9 C587.8 1269.5 596.5 1269.3 603.5 1269.2 C610.4 1269 616.9 1268.9 624 1268.8 C631.1 1268.8 639.2 1268.7 646 1268.8 C652.9 1269 658.7 1269.3 665.1 1269.8 C671.4 1270.3 677.4 1271 684.1 1271.8 C690.9 1272.5 698.5 1273.3 705.6 1274.2 C712.7 1275 719.7 1276 726.7 1276.9 C733.6 1277.8 740.4 1278.6 747.2 1279.5 C754.1 1280.5 761.1 1281.3 767.8 1282.5 C774.5 1283.6 780.8 1285.1 787.4 1286.4 C794 1287.8 800.7 1289.4 807.4 1290.8 C814 1292.2 820.7 1293.6 827.3 1294.9 C833.9 1296.3 840.3 1297.7 847 1298.9 C853.7 1300.1 860.7 1301 867.5 1302.1 C874.3 1303.2 881.3 1304.1 888 1305.5 C894.8 1306.9 902.1 1309 908 1310.6 C913.9 1312.2 920 1314 923.2 1315 C926.5 1316.1 926.9 1316.6 927.6 1317" stroke="#0000ff" stroke-width="5.1" stroke-dasharray="17.40 11.50 2.10 11.20" stroke-dashoffset="7.9"/>
<path d="M148.4 1861.1 L150.1 1832 L152.6 1801.3 L155.3 1770.6 L158.4 1752.2 L161.5 1724.7 L163.8 1701.7 L166.1 1684.8 L167.6 1671 L169.9 1651.1 L173 1632.7 L175 1620.4 L177.6 1602 L178.7 1580 L181.1 1569.1 L184 1554.4 L186.9 1545.6 L189.9 1531 L192.2 1519.2 L196.3 1506 L200.1 1494.3 C200.7 1492.5 202.2 1487.2 203.7 1483.3 C205.1 1479.4 206.9 1475 208.9 1470.8 C210.9 1466.7 213.5 1462.2 215.7 1458.4 C217.9 1454.5 220.2 1451.1 222.1 1447.7 C224.1 1444.4 225.2 1441.5 227.4 1438.2 C229.6 1434.9 232.8 1431.4 235.3 1427.9 C237.9 1424.4 240.2 1420.7 242.7 1417.3 C245.1 1413.8 247.4 1410.6 250 1407.2 C252.6 1403.7 255.6 1400.3 258.2 1396.7 C260.8 1393.1 263 1389.2 265.6 1385.5 C268.1 1381.9 270.8 1378.2 273.5 1375 C276.1 1371.7 278.5 1369 281.4 1366.2 C284.3 1363.4 287.8 1361 291.1 1358.2 C294.4 1355.4 297.9 1352.2 301.4 1349.5 C304.8 1346.8 308.2 1344.1 311.6 1341.9 C315 1339.7 318.5 1338.2 321.9 1336.2 C325.3 1334.3 328.6 1332.2 332.2 1330.2 C335.7 1328.1 339.4 1325.7 343.3 1323.7 C347.2 1321.7 351.9 1320.2 355.6 1318.3 C359.4 1316.4 362.5 1314.6 365.9 1312.3 C369.3 1310.1 372.6 1307.3 376.2 1304.6 C379.7 1302 383.6 1298.9 387.3 1296.3 C391 1293.8 394.2 1291.4 398.2 1289.4 C402.2 1287.4 407.7 1285.8 411.4 1284.2 C415 1282.5 416.5 1280.9 420.2 1279.4 C423.8 1278 429.2 1276.5 433.4 1275.4 C437.5 1274.3 440.9 1273.8 445.1 1272.8 C449.3 1271.8 454.4 1270.8 458.3 1269.6 C462.2 1268.4 464.9 1266.8 468.6 1265.5 C472.2 1264.1 476.4 1262.9 480.3 1261.5 C484.2 1260.2 487.9 1258.7 492 1257.4 C496.2 1256.1 501.2 1254.7 505.2 1253.6 C509.3 1252.5 512.3 1251.7 516.4 1250.8 C520.4 1249.9 525.4 1249.2 529.6 1248.5 C533.7 1247.7 537.1 1246.9 541.3 1246.1 C545.6 1245.3 550.9 1244.4 555.1 1243.5 C559.4 1242.6 562.7 1241.5 566.8 1240.8 C571 1240 574.7 1239.4 580.1 1239 C585.4 1238.5 592.9 1238.4 599.1 1238.1 C605.3 1237.9 611.9 1237.7 617.3 1237.5 C622.6 1237.4 625.8 1237.1 631.3 1237.2 C636.9 1237.3 644.3 1237.7 650.4 1238.1 C656.5 1238.5 662.8 1239.3 668 1239.8 C673.2 1240.3 676.1 1240.7 681.5 1241.2 C686.9 1241.7 694 1242 700.3 1242.6 C706.6 1243.2 714 1243.9 719.3 1244.6 C724.7 1245.4 727.2 1246.2 732.6 1246.9 C737.9 1247.6 745.4 1248.2 751.6 1248.9 C757.9 1249.6 764.9 1250.2 770.1 1251.1 C775.3 1252 777.7 1253.1 783 1254.4 C788.3 1255.6 795.9 1257.2 802.1 1258.6 C808.2 1260 814.7 1261.4 820 1262.7 C825.2 1263.9 828.1 1265 833.5 1266.2 C838.8 1267.4 845.8 1268.6 852 1269.6 C858.1 1270.7 865.1 1271.5 870.4 1272.3 C875.8 1273.1 878.9 1273.3 884.2 1274.4 C889.5 1275.5 896.2 1277.1 902.1 1279.1 C908 1281.1 916.8 1285.2 919.7 1286.4" stroke="#ff00ff" stroke-width="4.3" stroke-dasharray="13.20 10.80 2.90 10.10 2.90 11.20" stroke-dashoffset="5.2"/>
</g>
<text class="a t" transform="translate(124 1870.9) scale(1 1.13)" text-anchor="end">0</text>
<text class="a t" transform="translate(124 1766.7) scale(1 1.13)" text-anchor="end">100</text>
<text class="a t" transform="translate(124 1662.5) scale(1 1.13)" text-anchor="end">200</text>
<text class="a t" transform="translate(124 1558.3) scale(1 1.13)" text-anchor="end">300</text>
<text class="a t" transform="translate(124 1454) scale(1 1.13)" text-anchor="end">400</text>
<text class="a t" transform="translate(124 1349.8) scale(1 1.13)" text-anchor="end">500</text>
<text class="a t" transform="translate(124 1245.6) scale(1 1.13)" text-anchor="end">600</text>
<text class="a t" transform="translate(124 1141.4) scale(1 1.13)" text-anchor="end">700</text>
<text class="a t" transform="translate(148 1909.9) scale(1 1.13)" text-anchor="middle">0</text>
<text class="a t" transform="translate(276.3 1909.9) scale(1 1.13)" text-anchor="middle">1</text>
<text class="a t" transform="translate(404.6 1909.9) scale(1 1.13)" text-anchor="middle">2</text>
<text class="a t" transform="translate(532.9 1909.9) scale(1 1.13)" text-anchor="middle">3</text>
<text class="a t" transform="translate(661.1 1909.9) scale(1 1.13)" text-anchor="middle">4</text>
<text class="a t" transform="translate(789.4 1909.9) scale(1 1.13)" text-anchor="middle">5</text>
<text class="a t" transform="translate(917.7 1909.9) scale(1 1.13)" text-anchor="middle">6</text>
<text class="a t" transform="translate(1046 1909.9) scale(1 1.13)" text-anchor="middle">7</text>
<text class="a x" transform="translate(597.3 1967.9) scale(1 1.03)" text-anchor="middle">Lateral Drift (%)</text>
<text class="a y" transform="translate(58 1530.3) rotate(-90) scale(1 1.03)" text-anchor="middle">Lateral Force (kN)</text>
<rect x="718.5" y="1634.5" width="323" height="225" fill="#fff" stroke="#000" stroke-width="1.15"/>
<path class="cv" d="M736.4 1663 h81" stroke="#ff0000" stroke-width="5.2"/>
<text class="a l" transform="translate(828 1675.5) scale(1.012 1.04)">f<tspan class="c" dy="11.7">c</tspan><tspan dy="-11.7">= 45 Mpa</tspan></text>
<path class="cv" d="M735.9 1718.5 h81.9" stroke="#00ff00" stroke-width="4.3" stroke-dasharray="14.90 18.70"/>
<text class="a l" transform="translate(828 1731) scale(1.012 1.04)">f<tspan class="c" dy="11.7">c</tspan><tspan dy="-11.7">= 56.3 Mpa</tspan></text>
<path class="cv" d="M736.3 1774 h73.2" stroke="#0000ff" stroke-width="5.1" stroke-dasharray="17.40 11.50 2.10 11.20"/>
<text class="a l" transform="translate(828 1786.5) scale(1.012 1.04)">f<tspan class="c" dy="11.7">c</tspan><tspan dy="-11.7">= 67.5 Mpa</tspan></text>
<path class="cv" d="M735.9 1829.5 h77.9" stroke="#ff00ff" stroke-width="4.3" stroke-dasharray="13.20 10.80 2.90 10.10 2.90 11.20"/>
<text class="a l" transform="translate(828 1842) scale(1.012 1.04)">f<tspan class="c" dy="11.7">c</tspan><tspan dy="-11.7">= 90 Mpa</tspan></text>
<text class="s d" transform="translate(484.1 2026.9) scale(1 1.035)">X-direction</text>
</g>
<g>
<path fill="#000" d="M1223 1130H1227V1876H1223ZM2121 1130H2124V1876H2121ZM1210 1130H2124V1133H1210ZM1210 1860H2124V1863H1210Z"/>
<path class="ax" d="M1216.4 1809.4h7.6M1210 1757.2h14M1216.4 1705.1h7.6M1210 1652.9h14M1216.4 1600.8h7.6M1210 1548.6h14M1216.4 1496.5h7.6M1210 1444.4h14M1216.4 1392.2h7.6M1210 1340.1h14M1216.4 1287.9h7.6M1210 1235.8h14M1216.4 1183.6h7.6M1289.1 1862v7.6M1353.2 1862v14M1417.3 1862v7.6M1481.4 1862v14M1545.5 1862v7.6M1609.6 1862v14M1673.8 1862v7.6M1737.9 1862v14M1802 1862v7.6M1866.1 1862v14M1930.2 1862v7.6M1994.3 1862v14M2058.4 1862v7.6"/>
<clipPath id="cp3"><rect x="1224.9" y="1131.5" width="897.6" height="730.9"/></clipPath>
<g class="cv" clip-path="url(#cp3)">
<path d="M1225.7 1861.1 L1227.3 1839.6 L1229.6 1809 L1231.9 1786 L1234.9 1755.3 L1238 1732.3 L1241.8 1709.3 L1245.7 1694 L1250.3 1675.6 L1255.6 1657.2 L1261 1641.9 L1265.6 1631.1 L1274.8 1617.3 L1282.5 1600.5 L1290.1 1583.6 L1292.7 1580 L1298.6 1566.2 L1305.9 1550 L1313.3 1541.2 L1323.5 1532.4 L1332.3 1518.6 L1341.1 1511.9 L1351.4 1506 L1361.7 1497.2 L1370.5 1489.3 L1382.2 1489.9 L1394 1485.5 L1405.7 1478.2 L1420.4 1478.2 L1432.1 1468.8 L1438 1466.4 L1446.8 1460.6 L1455.6 1460 L1462.9 1456.2 L1473.2 1445.9 L1479 1442.4 L1489.3 1443.5 L1495.2 1440.6 L1505.4 1431.8 L1520.1 1424.8 L1528.9 1422.4 L1537.7 1415.1 L1546.5 1407.2 L1555.3 1403.4 L1564.1 1398.4 L1578.8 1387.8 L1593.4 1380.8 L1602.2 1375.5 L1612.5 1366.7 L1625.7 1364.3 L1637.4 1360.2 L1649.2 1354.9 L1655.1 1352.6 L1660.9 1353.6 L1672.6 1347.8 L1684.3 1343.4 L1691.7 1336.9 L1697.5 1339.8 L1707.8 1336.9 L1722.5 1334.6 L1734.2 1331.6 L1743 1327.8 L1754.7 1325.2 L1766.5 1324.3 L1775.3 1321.4 L1784.1 1321.9 L1788.5 1318.4 L1798.7 1319.9 L1807.6 1317.2 L1816.4 1314 L1826.6 1312 L1836.9 1312 L1847.2 1311.1 L1857.4 1312 L1863.3 1312.6 L1869.2 1310.2 L1878 1313.1 L1886.8 1317 L1895.6 1319.6 L1904.4 1318.4 L1913.2 1319.6 L1919 1321.4 L1930.8 1321.4 L1939.6 1324.9 L1951.3 1326.6 L1960.1 1329 L1974.8 1330.7 L1980.6 1333.7 L1989.4 1335.4 L2001.2 1339.5 L2010 1338.7 L2018.8 1338.4" stroke="#ff0000" stroke-width="4.3"/>
<path d="M1225.4 1861.1 L1227 1839.6 L1229.1 1809 L1231.1 1786 L1234.2 1755.3 L1237.7 1727.7 L1241.1 1713.9 L1246.4 1694 L1250.3 1674.1 L1254.9 1658.7 L1259.5 1644.9 L1264.8 1629.6 L1270.2 1618.9 L1280.9 1597.4 L1285.5 1586.7 L1288.9 1580 L1294.2 1564.7 L1298.6 1557.4 L1308.9 1538.3 C1310.1 1536.5 1312.5 1531.7 1316.2 1527.7 C1319.9 1523.8 1327.2 1518.8 1330.9 1514.7 C1334.5 1510.6 1334.3 1506.7 1338.2 1503.1 C1342.1 1499.5 1349.9 1495.9 1354.3 1492.8 C1358.7 1489.7 1360 1486.8 1364.6 1484.4 C1369.3 1482 1377.1 1480.4 1382.2 1478.5 C1387.4 1476.6 1390 1474.8 1395.4 1472.9 C1400.8 1470.9 1409.4 1469 1414.5 1466.9 C1419.6 1464.8 1421.8 1462.6 1426.2 1460.3 C1430.6 1458 1436.2 1455.5 1440.9 1453.2 C1445.5 1450.8 1449.6 1448.8 1454.1 1446.3 C1458.6 1443.9 1463.2 1441.1 1467.9 1438.6 C1472.5 1436 1477.3 1433.4 1482 1431.1 C1486.7 1428.8 1491.6 1427.1 1496 1424.8 C1500.4 1422.6 1503.3 1420.1 1508.4 1417.7 C1513.5 1415.2 1521.7 1412.6 1526.6 1410 C1531.4 1407.3 1533.2 1404.5 1537.7 1401.5 C1542.3 1398.6 1549.3 1395.3 1553.8 1392.1 C1558.4 1389 1560.7 1385.9 1565 1382.7 C1569.3 1379.6 1575.2 1376.3 1579.7 1373.3 C1584.2 1370.3 1587.5 1367.5 1592 1364.7 C1596.5 1362 1601.8 1359.3 1606.6 1356.8 C1611.5 1354.3 1615.9 1351.8 1621.3 1349.7 C1626.7 1347.5 1633.8 1345.7 1638.9 1343.8 C1644 1341.9 1647.2 1340.2 1652.1 1338.5 C1657 1336.8 1662.8 1335.1 1668.2 1333.4 C1673.6 1331.7 1679.2 1330 1684.3 1328.3 C1689.5 1326.6 1693.6 1324.9 1699 1323.3 C1704.4 1321.8 1711 1320.3 1716.6 1318.9 C1722.2 1317.5 1727.4 1316.3 1732.7 1315 C1738.1 1313.7 1743.3 1312.3 1748.9 1311.1 C1754.5 1309.9 1760.9 1308.7 1766.5 1307.7 C1772.1 1306.7 1777.2 1306.1 1782.6 1305.2 C1788 1304.3 1793.4 1303.5 1798.7 1302.5 C1804.1 1301.5 1809.5 1300 1814.9 1299 C1820.3 1297.9 1825.6 1296.8 1831 1296.3 C1836.4 1295.7 1841.8 1295.5 1847.2 1295.8 C1852.5 1296 1857.7 1296.8 1863.3 1297.6 C1868.9 1298.3 1875.3 1299.6 1880.9 1300.3 C1886.5 1301 1891.6 1301.6 1897 1302.1 C1902.4 1302.6 1907.8 1302.7 1913.2 1303.3 C1918.5 1303.9 1923.7 1304.7 1929.3 1305.7 C1934.9 1306.8 1941.3 1308.2 1946.9 1309.5 C1952.5 1310.7 1957.7 1312 1963 1313.1 C1968.4 1314.3 1973.8 1315.4 1979.2 1316.6 C1984.5 1317.8 1989.9 1319.1 1995.3 1320.2 C2000.7 1321.3 2008.8 1322.6 2011.4 1323.1" stroke="#00ff00" stroke-width="5.1" stroke-dasharray="14.10 19.50" stroke-dashoffset="14.6"/>
<path d="M1225.4 1861.1 L1226.7 1839.6 L1228.8 1809 L1230.8 1786 L1233.4 1758.4 L1237.2 1724.7 L1240.3 1709.3 L1244.9 1690.9 L1248 1675.6 L1251 1661.8 L1255.6 1643.4 L1258.7 1634.2 L1262.5 1623.5 L1267.1 1611.2 L1276.3 1597.4 L1280.2 1585.1 L1283.1 1580 L1285.4 1575 L1289.8 1561.8 L1292.7 1555.9 L1297.1 1545.6 L1302.4 1533.9 C1303.7 1532 1307.7 1526.2 1310.3 1522.4 C1313 1518.6 1315.5 1515 1318.3 1511.2 C1321.1 1507.5 1324 1503.7 1327.1 1500 C1330.1 1496.3 1333.3 1492.5 1336.7 1489.2 C1340.2 1485.8 1343.9 1482.9 1347.6 1479.8 C1351.3 1476.8 1354.7 1473.7 1358.7 1470.9 C1362.8 1468.2 1367.9 1465.3 1372 1463.3 C1376 1461.4 1379 1460.6 1382.8 1459.1 C1386.6 1457.6 1389.7 1456 1394.5 1454.3 C1399.3 1452.7 1407.1 1450.6 1411.6 1449 C1416 1447.4 1418.1 1446.6 1421.2 1444.7 C1424.4 1442.9 1426.4 1440.2 1430.6 1437.9 C1434.9 1435.6 1442.5 1432.7 1446.8 1430.6 C1451.1 1428.6 1453.3 1427.4 1456.4 1425.5 C1459.6 1423.6 1461.3 1421.3 1465.8 1419 C1470.3 1416.7 1478.8 1414 1483.4 1411.7 C1488.1 1409.5 1490.3 1407.8 1493.7 1405.5 C1497.1 1403.2 1499.6 1400.4 1504 1398.1 C1508.4 1395.7 1515.8 1393.3 1520.1 1391.3 C1524.4 1389.2 1526.3 1387.9 1529.5 1385.8 C1532.7 1383.6 1535 1381 1539.2 1378.4 C1543.3 1375.8 1550.3 1372.8 1554.4 1370 C1558.6 1367.2 1560.9 1364.6 1564.1 1361.7 C1567.3 1358.8 1569.1 1355.6 1573.5 1352.7 C1577.9 1349.7 1586 1346.8 1590.5 1344.1 C1595.1 1341.4 1597.4 1339 1600.8 1336.6 C1604.2 1334.2 1606.4 1331.8 1611 1329.8 C1615.7 1327.8 1623.9 1326.1 1628.6 1324.4 C1633.4 1322.7 1635.8 1321.2 1639.5 1319.5 C1643.2 1317.9 1646.1 1316.2 1650.6 1314.6 C1655.2 1313 1662.3 1311.5 1666.7 1309.9 C1671.1 1308.4 1673.3 1306.7 1677 1305.1 C1680.7 1303.5 1683.6 1301.7 1688.7 1300.2 C1693.9 1298.7 1702.9 1297.1 1707.8 1296 C1712.7 1295 1714.9 1294.9 1718.1 1294.2 C1721.3 1293.5 1722.5 1293.2 1726.9 1291.9 C1731.3 1290.6 1739.7 1288 1744.5 1286.4 C1749.3 1284.8 1752.1 1283.3 1755.6 1282.3 C1759.2 1281.4 1760.9 1281.2 1765.9 1280.6 C1770.9 1280.1 1780.4 1279.6 1785.5 1279 C1790.7 1278.3 1793 1277.7 1796.7 1276.8 C1800.4 1275.8 1802.6 1274.3 1807.6 1273.1 C1812.5 1271.9 1821.6 1270.3 1826.6 1269.4 C1831.7 1268.6 1834.1 1268.2 1837.8 1268.1 C1841.4 1268 1843.4 1268.3 1848.6 1268.8 C1853.9 1269.3 1864 1270.2 1869.2 1271 C1874.3 1271.8 1876 1272.9 1879.4 1273.6 C1882.8 1274.3 1884.6 1274.6 1889.7 1275.1 C1894.8 1275.5 1905 1275.9 1910.2 1276.4 C1915.5 1276.8 1917.5 1277.2 1921.1 1277.8 C1924.7 1278.4 1926.5 1279 1931.6 1280 C1936.8 1281 1946.9 1282.5 1952.2 1283.6 C1957.4 1284.7 1959.3 1285.6 1963 1286.7 C1966.8 1287.8 1969.6 1288.8 1974.8 1290.1 C1979.9 1291.4 1989.2 1293.2 1993.8 1294.4 C1998.5 1295.5 1998.7 1296.3 2002.6 1296.8 C2006.6 1297.2 2014.9 1297 2017.3 1297" stroke="#0000ff" stroke-width="4.3" stroke-dasharray="18.20 10.70 2.90 10.40" stroke-dashoffset="7.8"/>
<path d="M1225.4 1861.1 L1226.7 1839.6 L1228.5 1809 L1230.3 1786 L1233.1 1758.4 L1236.5 1733.9 L1239.5 1706.3 L1242.6 1695.5 L1245.7 1683.3 L1247.5 1670.2 L1250 1657.2 L1253.3 1644.9 L1256.4 1633.4 L1259.8 1620.1 L1263.8 1608.1 L1269.4 1597.4 L1274.8 1586.7 L1277.2 1580 L1279.5 1575 L1285.4 1561.8 L1289.8 1551.5 L1294.2 1539.2 L1299.5 1526.6 L1304.5 1514.8 C1305.7 1513.2 1309.4 1508.1 1311.8 1504.8 C1314.3 1501.4 1316.5 1498.2 1319.1 1494.7 C1321.8 1491.3 1325.4 1487.5 1327.9 1484 C1330.5 1480.6 1331.8 1477 1334.7 1474.1 C1337.6 1471.1 1342.2 1468.8 1345.5 1466.2 C1348.9 1463.6 1351.8 1461.1 1354.9 1458.4 C1358.1 1455.6 1361.1 1452.3 1364.6 1449.9 C1368.1 1447.6 1371.8 1445.7 1375.8 1444.2 C1379.8 1442.7 1384.9 1442.2 1388.7 1440.8 C1392.4 1439.5 1394.5 1437.6 1398.4 1436.1 C1402.2 1434.5 1407.7 1432.8 1411.6 1431.4 C1415.4 1430 1418.1 1429.2 1421.2 1427.6 C1424.4 1425.9 1427.6 1423.6 1430.6 1421.5 C1433.7 1419.4 1435.8 1416.9 1439.4 1415 C1443.1 1413.1 1448.7 1411.9 1452.6 1410.1 C1456.5 1408.3 1459.7 1406.3 1462.9 1404.1 C1466.1 1401.9 1468.3 1398.9 1471.7 1396.8 C1475.1 1394.6 1479.5 1392.8 1483.4 1391 C1487.3 1389.2 1491.5 1387.9 1495.2 1385.9 C1498.8 1383.9 1502 1381.3 1505.4 1379.2 C1508.9 1377 1512 1375.1 1515.7 1373.3 C1519.4 1371.4 1523.9 1370.2 1527.4 1368 C1531 1365.8 1534 1362.9 1537.1 1360.3 C1540.2 1357.7 1542.6 1354.5 1545.9 1352.2 C1549.2 1349.8 1553.5 1348.2 1556.8 1346.1 C1560 1344 1562.4 1342 1565.6 1339.5 C1568.8 1337 1572.4 1333.8 1575.8 1331 C1579.3 1328.3 1582.3 1325.6 1586.1 1323.2 C1589.9 1320.7 1595.1 1318.4 1598.7 1316.4 C1602.4 1314.4 1604.7 1312.6 1608.1 1311.2 C1611.5 1309.9 1616.1 1309.3 1619.3 1308.1 C1622.4 1306.9 1623.9 1305.6 1627.2 1303.9 C1630.5 1302.2 1635.2 1300 1638.9 1298.1 C1642.6 1296.2 1645.3 1294.4 1649.2 1292.7 C1653.1 1291.1 1658.4 1289.8 1662.3 1288.2 C1666.2 1286.7 1668.7 1285.2 1672.6 1283.7 C1676.5 1282.1 1681.9 1280.5 1685.8 1279.1 C1689.7 1277.7 1692.3 1276.3 1696.1 1275 C1699.9 1273.7 1704.7 1272.5 1708.7 1271.3 C1712.7 1270.2 1715.8 1269.3 1720.1 1268.2 C1724.5 1267.1 1730.6 1265.9 1734.8 1264.7 C1739 1263.5 1741.3 1262.1 1745.4 1261 C1749.4 1259.9 1755 1258.9 1759.1 1258.1 C1763.3 1257.2 1765.8 1256.6 1770 1256 C1774.2 1255.4 1779.9 1255.2 1784.1 1254.7 C1788.2 1254.1 1791 1253.7 1794.9 1252.8 C1798.8 1251.9 1803.5 1250.5 1807.6 1249.4 C1811.6 1248.3 1814.9 1247.1 1819.3 1246.2 C1823.7 1245.4 1829.7 1244.8 1834 1244.3 C1838.3 1243.9 1841.1 1243.5 1845.1 1243.4 C1849.1 1243.3 1854.2 1243.4 1858 1243.9 C1861.8 1244.4 1863.8 1245.4 1867.7 1246.2 C1871.6 1247.1 1877.3 1248.4 1881.5 1249.1 C1885.6 1249.9 1888.7 1250.3 1892.6 1250.8 C1896.6 1251.3 1901.3 1251.8 1905.2 1252 C1909.2 1252.3 1912.1 1252.2 1916.1 1252.3 C1920.1 1252.3 1925.6 1251.9 1929.3 1252.5 C1933 1253.1 1934.3 1254.7 1938.1 1255.9 C1941.9 1257.2 1947.9 1258.9 1952.2 1260 C1956.4 1261.1 1959.5 1261.7 1963.6 1262.6 C1967.8 1263.5 1973.2 1264.4 1977.1 1265.5 C1981.1 1266.5 1983.6 1267.9 1987.4 1269.1 C1991.1 1270.2 1995.8 1271.6 1999.7 1272.4 C2003.6 1273.1 2007.2 1273.6 2010.6 1273.7 C2013.9 1273.8 2018.1 1273.1 2019.7 1272.9" stroke="#ff00ff" stroke-width="5.1" stroke-dasharray="12.40 11.60 2.10 10.90 2.10 12.00" stroke-dashoffset="24.3"/>
</g>
<text class="a t" transform="translate(1201 1869.9) scale(1 1.13)" text-anchor="end">0</text>
<text class="a t" transform="translate(1201 1765.6) scale(1 1.13)" text-anchor="end">100</text>
<text class="a t" transform="translate(1201 1661.3) scale(1 1.13)" text-anchor="end">200</text>
<text class="a t" transform="translate(1201 1557) scale(1 1.13)" text-anchor="end">300</text>
<text class="a t" transform="translate(1201 1452.8) scale(1 1.13)" text-anchor="end">400</text>
<text class="a t" transform="translate(1201 1348.5) scale(1 1.13)" text-anchor="end">500</text>
<text class="a t" transform="translate(1201 1244.2) scale(1 1.13)" text-anchor="end">600</text>
<text class="a t" transform="translate(1201 1139.9) scale(1 1.13)" text-anchor="end">700</text>
<text class="a t" transform="translate(1225 1908.9) scale(1 1.13)" text-anchor="middle">0</text>
<text class="a t" transform="translate(1353.2 1908.9) scale(1 1.13)" text-anchor="middle">1</text>
<text class="a t" transform="translate(1481.4 1908.9) scale(1 1.13)" text-anchor="middle">2</text>
<text class="a t" transform="translate(1609.6 1908.9) scale(1 1.13)" text-anchor="middle">3</text>
<text class="a t" transform="translate(1737.9 1908.9) scale(1 1.13)" text-anchor="middle">4</text>
<text class="a t" transform="translate(1866.1 1908.9) scale(1 1.13)" text-anchor="middle">5</text>
<text class="a t" transform="translate(1994.3 1908.9) scale(1 1.13)" text-anchor="middle">6</text>
<text class="a t" transform="translate(2122.5 1908.9) scale(1 1.13)" text-anchor="middle">7</text>
<text class="a x" transform="translate(1674.3 1966.3) scale(1 1.03)" text-anchor="middle">Lateral Drift (%)</text>
<text class="a y" transform="translate(1135 1528.8) rotate(-90) scale(1 1.03)" text-anchor="middle">Lateral Force (kN)</text>
<rect x="1792.5" y="1629.5" width="323" height="225" fill="#fff" stroke="#000" stroke-width="1.15"/>
<path class="cv" d="M1810 1658 h81.9" stroke="#ff0000" stroke-width="4.3"/>
<text class="a l" transform="translate(1902 1670.5) scale(1.012 1.04)">f<tspan class="c" dy="11.7">c</tspan><tspan dy="-11.7">= 45 Mpa</tspan></text>
<path class="cv" d="M1810.3 1713.5 h81.1" stroke="#00ff00" stroke-width="5.1" stroke-dasharray="14.10 19.50"/>
<text class="a l" transform="translate(1902 1726) scale(1.012 1.04)">f<tspan class="c" dy="11.7">c</tspan><tspan dy="-11.7">= 56.3 Mpa</tspan></text>
<path class="cv" d="M1810 1769 h74" stroke="#0000ff" stroke-width="4.3" stroke-dasharray="18.20 10.70 2.90 10.40"/>
<text class="a l" transform="translate(1902 1781.5) scale(1.012 1.04)">f<tspan class="c" dy="11.7">c</tspan><tspan dy="-11.7">= 67.5 Mpa</tspan></text>
<path class="cv" d="M1810.3 1824.5 h77.1" stroke="#ff00ff" stroke-width="5.1" stroke-dasharray="12.40 11.60 2.10 10.90 2.10 12.00"/>
<text class="a l" transform="translate(1902 1837) scale(1.012 1.04)">f<tspan class="c" dy="11.7">c</tspan><tspan dy="-11.7">= 90 Mpa</tspan></text>
<text class="s d" transform="translate(1560.2 2027.2) scale(1 1.035)">Y-direction</text>
</g>
<g>
<path fill="#000" d="M147 2212H151V2958H147ZM1045 2212H1049V2958H1045ZM134 2212H1049V2216H134ZM134 2942H1049V2945H134Z"/>
<path class="ax" d="M140.4 2891.4h7.6M134 2839.3h14M140.4 2787.2h7.6M134 2735.1h14M140.4 2683h7.6M134 2630.9h14M140.4 2578.8h7.6M134 2526.6h14M140.4 2474.5h7.6M134 2422.4h14M140.4 2370.3h7.6M134 2318.2h14M140.4 2266.1h7.6M213.1 2944v7.6M277.3 2944v14M341.4 2944v7.6M405.6 2944v14M469.7 2944v7.6M533.9 2944v14M598 2944v7.6M662.1 2944v14M726.3 2944v7.6M790.4 2944v14M854.6 2944v7.6M918.7 2944v14M982.9 2944v7.6"/>
<clipPath id="cp4"><rect x="148.9" y="2214" width="898.1" height="730.4"/></clipPath>
<g class="cv" clip-path="url(#cp4)">
<path d="M150 2941.1 L150.7 2912 L152.3 2881.3 L154.6 2843 L156.1 2812.3 L157.6 2789.3 L159.2 2766.3 L160.7 2751 L163 2735.7 L166.1 2720.3 L169.1 2711.1 L172.2 2703.5 L176 2701.2 L181.4 2704.2 L185.2 2695.8 L189.1 2678.9 L192.9 2663.6 L198.3 2654.4 L203.1 2650 L210.4 2636.2 L217.7 2623 L225.1 2614.2 L230.9 2602.4 L239.7 2593.6 L248.5 2584.8 L252.9 2579 L257.3 2571.6 L266.1 2561.4 L274.9 2551.1 L283.7 2540.8 L292.6 2530.6 L299.9 2521.8 L308.7 2510 L316 2501.8 L324.8 2493.9 L333.6 2489.5 L345.4 2480.7 L354.2 2474.2 L365.9 2467.5 L374.7 2461.6 L383.5 2457.2 L389.4 2455.8 L396.7 2448.4 L405.5 2447 L412.8 2441.1 L421.6 2438.2 L430.4 2436.1 L439.2 2431.7 L446.6 2429.9 L453.9 2424.9 L462.7 2422 L471.5 2421.1 L480.3 2417.6 L487.6 2414.7 L493.5 2410.9 L503.8 2409.7 L512.6 2407.3 L521.4 2406.8 L530.2 2402.9 L539 2402.1 L547.8 2399.4 L559.5 2398 L568.3 2395.6 L577.1 2394.7 L580 2394 L588.8 2390.2 L597.6 2389.6 L606.4 2391.1 L615.2 2390.2 L621.1 2391.7 L626.9 2390.5 L635.7 2393.7 L646 2393.7 L654.8 2390.8 L662.1 2394.3 L672.4 2396.4 L681.2 2393.7 L691.5 2396.4 L703.2 2399 L712 2399.6 L720.8 2401.4 L729.6 2400.2 L741.4 2404.3 L753.1 2403.1 L761.9 2404.3 L770.7 2408.1 L782.4 2406.6 L794.2 2410.2 L808.8 2407.8 L817.6 2411.6 L832.3 2411 L844 2413.7 L852.8 2414 L860.2 2416 L866 2413.1 L876.3 2418.4 L888 2420.7 L896.8 2419 L908.6 2418.1 L920.3 2422.8 L926.2 2421.3" stroke="#ff0000" stroke-width="5.0"/>
<path d="M150 2941.1 L151 2912 L152.6 2881.3 L155 2843 L156.9 2812.3 L159.2 2789.3 L161.2 2774 L163 2758.7 L165.3 2743.3 L167.6 2731.1 L170.7 2706.5 L173.7 2695.8 L177.6 2682 L182.9 2679.7 L194.4 2686.3 L202.9 2675.9 L212.8 2663.6 L216.9 2650 C217.7 2648.9 220.3 2646.6 222.1 2643.7 C224 2640.7 225.1 2636.5 228 2632.1 C230.9 2627.8 236.6 2622.1 239.7 2617.5 C242.9 2612.8 244.1 2608.7 247.1 2604.3 C250 2599.9 254.7 2595.6 257.3 2591.1 C260 2586.5 260.3 2581.8 263.2 2577.1 C266.1 2572.4 271.5 2567.6 274.9 2562.8 C278.4 2558.1 280.3 2553.1 283.7 2548.5 C287.2 2543.9 292.3 2539.6 295.5 2535.3 C298.7 2531 299.4 2526.9 302.8 2522.6 C306.2 2518.4 312.3 2514.1 316 2510 C319.8 2505.8 321.7 2501.8 325.4 2497.7 C329.1 2493.6 334.2 2489.3 338 2485.5 C341.8 2481.6 344.4 2477.8 348.3 2474.5 C352.2 2471.1 357.1 2468.4 361.5 2465.1 C365.9 2461.9 369.6 2458.6 374.7 2455.1 C379.8 2451.6 387.9 2447.6 392.3 2444.2 C396.7 2440.9 396.7 2437.9 401.1 2435.2 C405.5 2432.6 413.6 2430.5 418.7 2428.2 C423.8 2426 427 2424 431.9 2421.9 C436.8 2419.8 443.1 2417.7 448 2415.7 C452.9 2413.7 456.3 2411.9 461.2 2409.8 C466.1 2407.8 472.5 2405.6 477.4 2403.2 C482.3 2400.8 485.2 2397.7 490.6 2395.5 C496 2393.2 504 2391.3 509.6 2389.7 C515.3 2388.1 518.9 2387 524.3 2385.9 C529.7 2384.7 536.5 2383.7 541.9 2382.7 C547.3 2381.7 551.2 2380.7 556.6 2379.6 C562 2378.6 570.3 2377.2 574.2 2376.4 C578.1 2375.5 577.3 2375 580 2374.4 C582.7 2373.8 585.9 2373.2 590.3 2372.8 C594.7 2372.4 601 2372 606.4 2372.1 C611.8 2372.2 616.9 2373 622.5 2373.6 C628.2 2374.1 634.5 2374.6 640.1 2375.2 C645.8 2375.7 650.7 2376.2 656.3 2376.9 C661.9 2377.7 668.3 2378.8 673.9 2379.8 C679.5 2380.8 684.6 2382 690 2383.1 C695.4 2384.2 700.8 2385.3 706.1 2386.2 C711.5 2387.1 716.7 2387.8 722.3 2388.5 C727.9 2389.3 734.3 2389.8 739.9 2390.6 C745.5 2391.5 750.6 2392.6 756 2393.8 C761.4 2395 766.8 2396.8 772.2 2397.8 C777.5 2398.9 782.9 2399.7 788.3 2400.3 C793.7 2400.8 799 2400.7 804.4 2401.4 C809.8 2402 815.2 2403.3 820.6 2404.4 C825.9 2405.5 831.3 2406.9 836.7 2408 C842.1 2409 847.2 2409.7 852.8 2410.6 C858.5 2411.5 864.8 2412.4 870.4 2413.3 C876.1 2414.2 881.2 2415.2 886.6 2416.2 C891.9 2417.1 897.6 2418.3 902.7 2419 C907.8 2419.8 914.9 2420.4 917.4 2420.7" stroke="#00ff00" stroke-width="4.3" stroke-dasharray="14.90 18.70" stroke-dashoffset="12.5"/>
<path d="M150 2941.1 L150.7 2912 L152.3 2881.3 L154.6 2843 L156.6 2812.3 L158.4 2789.3 L160.7 2766.3 L163 2747.9 L165.3 2735.7 L167.6 2720.3 L169.9 2703.5 L171.4 2689.7 L176.8 2673.6 L184.5 2667.4 L192.9 2674.3 L203.6 2664.4 L209.3 2653.6 L210.4 2650 L214.8 2642 L222.1 2628.8 C223.4 2626.7 227.3 2620.4 229.5 2616.3 C231.7 2612.2 233.1 2608 235.3 2604 C237.5 2600.1 240.2 2596.3 242.7 2592.3 C245.1 2588.4 247.8 2584.5 250 2580.4 C252.2 2576.2 253.2 2571.7 255.9 2567.4 C258.6 2563.1 263.4 2558.6 266.1 2554.5 C268.9 2550.5 270.2 2546.8 272.6 2543 C275 2539.1 278 2535.4 280.8 2531.4 C283.7 2527.5 287 2523.3 289.6 2519.3 C292.2 2515.4 293.9 2511.5 296.4 2507.8 C298.8 2504 300.8 2500.3 304.3 2496.6 C307.8 2492.9 314.2 2489.1 317.5 2485.6 C320.8 2482.1 321.5 2479.1 324.2 2475.8 C326.9 2472.6 330.1 2469.4 333.6 2466 C337.1 2462.6 341.9 2458.7 345.4 2455.3 C348.8 2451.9 351.2 2448.9 354.2 2445.8 C357.1 2442.6 359.3 2439.6 363 2436.5 C366.6 2433.5 372.2 2430.1 376.2 2427.3 C380.1 2424.5 382.9 2422.1 386.4 2419.7 C390 2417.4 392.8 2415.3 397.6 2413.1 C402.4 2411 410.6 2408.8 415.2 2406.6 C419.8 2404.5 421.6 2402.5 425.2 2400.3 C428.7 2398.1 431.9 2395.6 436.3 2393.3 C440.7 2391 447.1 2388.4 451.6 2386.6 C456.1 2384.8 459.4 2383.7 463.3 2382.3 C467.2 2380.8 470.5 2379.6 475 2378.1 C479.6 2376.5 486 2374.7 490.6 2373 C495.2 2371.3 498.8 2369.6 502.6 2368 C506.4 2366.3 508.3 2364.5 513.2 2363 C518 2361.5 526.6 2360.2 531.6 2359.1 C536.7 2358 539.9 2357.3 543.7 2356.2 C547.4 2355.2 549.6 2353.9 554.2 2352.6 C558.8 2351.4 567 2349.8 571.2 2348.8 C575.5 2347.8 577.6 2347.1 580 2346.7 C582.4 2346.4 583.2 2346.5 585.9 2346.8 C588.6 2347 591.5 2347.7 596.1 2348.3 C600.8 2348.8 609 2349.5 613.7 2350.1 C618.5 2350.7 620.8 2351.1 624.6 2351.8 C628.4 2352.6 631.1 2353.5 636.3 2354.5 C641.5 2355.5 650.8 2356.8 655.7 2357.9 C660.6 2358.9 662 2359.8 665.7 2360.6 C669.3 2361.3 672.2 2361.7 677.4 2362.3 C682.6 2362.8 691.8 2363.4 696.8 2364.1 C701.7 2364.8 703.5 2365.5 707 2366.6 C710.5 2367.6 713.1 2368.9 717.9 2370.3 C722.6 2371.8 730.7 2373.8 735.5 2375.2 C740.3 2376.6 742.9 2377.7 746.6 2378.7 C750.4 2379.7 753.1 2380.3 758.1 2381.2 C763.1 2382.1 771.6 2383.3 776.6 2384.2 C781.5 2385.1 784 2386 787.7 2386.8 C791.4 2387.6 793.6 2388.1 798.6 2389 C803.5 2390 812.7 2391.2 817.6 2392.5 C822.5 2393.7 824.2 2395.5 827.9 2396.7 C831.6 2397.8 835.1 2398.6 839.6 2399.3 C844.2 2400 850.6 2400.2 855.2 2401 C859.7 2401.8 863.1 2403 866.9 2404.1 C870.7 2405.3 872.8 2406.6 877.8 2407.8 C882.8 2409 891.8 2410.1 896.8 2411.1 C901.9 2412.1 904.1 2413.1 908 2413.9 C911.9 2414.7 918.3 2415.7 920.3 2416" stroke="#0000ff" stroke-width="5.1" stroke-dasharray="17.40 11.50 2.10 11.20" stroke-dashoffset="12.8"/>
<path d="M150 2941.1 L150.7 2912 L152.3 2881.3 L154.3 2843 L156.1 2812.3 L157.6 2789.3 L159.9 2766.3 L162.2 2747.9 L164.5 2728 L166.8 2713.4 L168.4 2700.4 L169.9 2686.6 L171.4 2674.3 L174.5 2664.4 L179.1 2651 L188.3 2651.3 L197.5 2659 L203.1 2647.9 L210.4 2636.2 L214.8 2624.4 L218.6 2612.7 C219.6 2610.9 222.1 2605.5 224.2 2601.8 C226.2 2598.1 228.6 2594.4 230.9 2590.6 C233.3 2586.8 236.1 2582.8 238.3 2579 C240.5 2575.2 242.2 2571.4 244.1 2567.7 C246.1 2564 248.3 2560.5 250 2556.7 C251.7 2553 252.8 2548.9 254.4 2545.1 C256 2541.2 257.6 2537.3 259.7 2533.7 C261.7 2530.1 264.3 2526.9 266.7 2523.6 C269.1 2520.3 271.4 2517.1 274.1 2513.7 C276.8 2510.3 280.2 2506.7 282.9 2503.1 C285.6 2499.5 288.1 2495.6 290.2 2492.1 C292.3 2488.5 293.4 2485 295.5 2481.6 C297.6 2478.2 300.1 2475 302.8 2471.6 C305.5 2468.2 309.2 2464.6 311.6 2461.2 C314.1 2457.8 315 2454.3 317.5 2451.1 C319.9 2447.8 323.5 2445 326.3 2441.9 C329.1 2438.8 331.2 2435.7 334.2 2432.6 C337.2 2429.5 340.9 2426.2 344.5 2423.2 C348 2420.1 352.3 2417.2 355.6 2414.3 C358.9 2411.4 361.4 2408.7 364.4 2406 C367.5 2403.2 370.8 2400.6 373.8 2398 C376.8 2395.3 379.2 2392.6 382.3 2390 C385.4 2387.4 388.3 2384.6 392.3 2382.3 C396.3 2380.1 402.4 2378.1 406.4 2376.4 C410.4 2374.6 412.6 2373.6 416.4 2371.8 C420.1 2370.1 424.9 2368.1 428.7 2365.8 C432.5 2363.5 435.8 2360.4 439.2 2358.1 C442.7 2355.7 445.8 2353.7 449.5 2351.8 C453.2 2350 457.2 2348.7 461.2 2346.9 C465.2 2345.2 469.8 2343.1 473.6 2341.3 C477.3 2339.6 480 2338 483.8 2336.5 C487.6 2335 492.3 2333.8 496.4 2332.5 C500.5 2331.3 504.4 2329.8 508.5 2328.9 C512.5 2328 517.2 2327.8 520.8 2327 C524.4 2326.3 526.2 2325.6 530.2 2324.5 C534.2 2323.3 540.7 2321.3 544.8 2320.1 C549 2318.8 551.2 2317.8 555.1 2317.1 C559 2316.4 564.2 2316.5 568.3 2315.9 C572.5 2315.2 575.6 2314.3 580 2313.4 C584.4 2312.6 591 2311.2 594.7 2311 C598.3 2310.8 598.6 2311.5 602 2312.5 C605.4 2313.5 611 2315.5 615.2 2316.9 C619.4 2318.4 622.8 2320.1 626.9 2321.3 C631.1 2322.6 636.2 2323.6 640.1 2324.5 C644.1 2325.4 646.4 2325.8 650.4 2326.8 C654.4 2327.8 660.5 2329 664.2 2330.5 C667.9 2332 668.6 2334.3 672.4 2336.1 C676.2 2337.9 682.8 2339.8 687.1 2341.1 C691.3 2342.5 693.9 2343.4 697.9 2344.4 C701.9 2345.3 707.3 2345.8 711.1 2346.7 C714.9 2347.6 716.9 2348.4 720.8 2349.6 C724.7 2350.9 730.5 2352.5 734.6 2354.1 C738.7 2355.7 741.6 2357.5 745.2 2359.3 C748.7 2361 752.4 2362.9 756 2364.5 C759.7 2366 763.1 2367.5 767.2 2368.7 C771.2 2369.9 776.5 2370.7 780.4 2371.9 C784.3 2373 786.8 2374.5 790.6 2375.7 C794.5 2376.9 799.5 2378 803.5 2379.1 C807.6 2380.2 810.7 2381 814.7 2382.2 C818.7 2383.5 823.5 2385.1 827.3 2386.7 C831.1 2388.3 833.6 2390.3 837.6 2391.7 C841.6 2393.2 847.3 2394.7 851.4 2395.6 C855.5 2396.6 858 2396.9 862.2 2397.5 C866.5 2398 872.9 2398.2 876.9 2399.1 C880.8 2400 882.4 2401.4 886 2402.9 C889.6 2404.4 894.3 2406.5 898.3 2408.2 C902.3 2409.9 905.8 2411.6 910 2413 C914.3 2414.4 921.5 2416 923.8 2416.6" stroke="#ff00ff" stroke-width="5.1" stroke-dasharray="12.40 11.60 2.10 10.90 2.10 12.00" stroke-dashoffset="16.4"/>
</g>
<text class="a t" transform="translate(125 2951.9) scale(1 1.13)" text-anchor="end">0</text>
<text class="a t" transform="translate(125 2847.7) scale(1 1.13)" text-anchor="end">100</text>
<text class="a t" transform="translate(125 2743.5) scale(1 1.13)" text-anchor="end">200</text>
<text class="a t" transform="translate(125 2639.3) scale(1 1.13)" text-anchor="end">300</text>
<text class="a t" transform="translate(125 2535) scale(1 1.13)" text-anchor="end">400</text>
<text class="a t" transform="translate(125 2430.8) scale(1 1.13)" text-anchor="end">500</text>
<text class="a t" transform="translate(125 2326.6) scale(1 1.13)" text-anchor="end">600</text>
<text class="a t" transform="translate(125 2222.4) scale(1 1.13)" text-anchor="end">700</text>
<text class="a t" transform="translate(149 2990.9) scale(1 1.13)" text-anchor="middle">0</text>
<text class="a t" transform="translate(277.3 2990.9) scale(1 1.13)" text-anchor="middle">1</text>
<text class="a t" transform="translate(405.6 2990.9) scale(1 1.13)" text-anchor="middle">2</text>
<text class="a t" transform="translate(533.9 2990.9) scale(1 1.13)" text-anchor="middle">3</text>
<text class="a t" transform="translate(662.1 2990.9) scale(1 1.13)" text-anchor="middle">4</text>
<text class="a t" transform="translate(790.4 2990.9) scale(1 1.13)" text-anchor="middle">5</text>
<text class="a t" transform="translate(918.7 2990.9) scale(1 1.13)" text-anchor="middle">6</text>
<text class="a t" transform="translate(1047 2990.9) scale(1 1.13)" text-anchor="middle">7</text>
<text class="a x" transform="translate(598.3 3048.3) scale(1 1.03)" text-anchor="middle">Lateral Drift (%)</text>
<text class="a y" transform="translate(59 2611.3) rotate(-90) scale(1 1.03)" text-anchor="middle">Lateral Force (kN)</text>
<rect x="719.5" y="2714.5" width="323" height="225" fill="#fff" stroke="#000" stroke-width="1.15"/>
<path class="cv" d="M737.3 2743 h81.2" stroke="#ff0000" stroke-width="5.0"/>
<text class="a l" transform="translate(829 2755.5) scale(1.012 1.04)">f<tspan class="c" dy="11.7">c</tspan><tspan dy="-11.7">= 45 Mpa</tspan></text>
<path class="cv" d="M736.9 2798.5 h81.9" stroke="#00ff00" stroke-width="4.3" stroke-dasharray="14.90 18.70"/>
<text class="a l" transform="translate(829 2811) scale(1.012 1.04)">f<tspan class="c" dy="11.7">c</tspan><tspan dy="-11.7">= 56.3 Mpa</tspan></text>
<path class="cv" d="M737.3 2854 h73.2" stroke="#0000ff" stroke-width="5.1" stroke-dasharray="17.40 11.50 2.10 11.20"/>
<text class="a l" transform="translate(829 2866.5) scale(1.012 1.04)">f<tspan class="c" dy="11.7">c</tspan><tspan dy="-11.7">= 67.5 Mpa</tspan></text>
<path class="cv" d="M737.3 2909.5 h77.1" stroke="#ff00ff" stroke-width="5.1" stroke-dasharray="12.40 11.60 2.10 10.90 2.10 12.00"/>
<text class="a l" transform="translate(829 2922) scale(1.012 1.04)">f<tspan class="c" dy="11.7">c</tspan><tspan dy="-11.7">= 90 Mpa</tspan></text>
<text class="s d" transform="translate(477.7 3098.5) scale(1 1.035)">X-direction</text>
</g>
<g>
<path fill="#000" d="M1216 2204H1220V2951H1216ZM2114 2204H2118V2951H2114ZM1203 2204H2118V2208H1203ZM1203 2934H2118V2938H1203Z"/>
<path class="ax" d="M1209.4 2883.9h7.6M1203 2831.7h14M1209.4 2779.6h7.6M1203 2727.4h14M1209.4 2675.3h7.6M1203 2623.1h14M1209.4 2571h7.6M1203 2518.9h14M1209.4 2466.7h7.6M1203 2414.6h14M1209.4 2362.4h7.6M1203 2310.3h14M1209.4 2258.1h7.6M1282.1 2937v7.6M1346.3 2937v14M1410.4 2937v7.6M1474.6 2937v14M1538.7 2937v7.6M1602.9 2937v14M1667 2937v7.6M1731.1 2937v14M1795.3 2937v7.6M1859.4 2937v14M1923.6 2937v7.6M1987.7 2937v14M2051.9 2937v7.6"/>
<clipPath id="cp5"><rect x="1217.9" y="2206" width="898.1" height="730.9"/></clipPath>
<g class="cv" clip-path="url(#cp5)">
<path d="M1219.2 2932.6 L1220.7 2909.6 L1223 2879 L1224.6 2856 L1226.1 2840.6 L1229.9 2836.8 L1233.8 2833.7 L1239.1 2834.5 L1243 2829.9 L1248.3 2820.7 L1252.9 2806.9 L1257.5 2790.1 L1262.9 2768.6 L1267.5 2748.7 L1272.9 2725.7 L1279 2708.8 L1287.7 2690 L1295.1 2667.4 L1303.9 2646.8 L1312.7 2629.2 L1321.5 2613.1 L1330.3 2598.4 L1339.1 2584.6 L1346.4 2575 L1355.2 2565.6 L1365.5 2557.4 L1375.8 2548.6 L1391.9 2539.8 L1406.6 2532.4 L1418.3 2526 L1430 2522.4 L1443.2 2518.3 L1453.5 2520.1 L1462.3 2519.8 L1472.6 2515.4 L1484.3 2514.2 L1496 2512.8 L1506.3 2514.8 L1513.6 2514.2 L1521 2509.5 L1529.8 2508.7 L1538.6 2508.1 L1547.4 2510.7 L1559.1 2509 L1570.8 2506.6 L1582.6 2505.4 L1591.4 2505.1 L1600.2 2505.7 L1606 2503.7 L1614.8 2503.7 L1623.6 2503.4 L1632.4 2498.7 L1641.2 2496.6 L1653 2495.8 L1663.3 2496.6 L1667.6 2496.6 L1676.4 2494.3 L1685.2 2491.9 L1694 2492.2 L1702.8 2495.2 L1710.1 2495.2 L1718.9 2490.5 L1727.7 2489.9 L1735.1 2489.3 L1743.9 2493.1 L1751.2 2495.2 L1760 2497.2 L1770.3 2497.5 L1779.1 2498.7 L1787.9 2499.3 L1795.2 2501.3 L1805.5 2501.6 L1814.3 2505.4 L1823.1 2509.5 L1830.4 2511.3 L1837.8 2511.3 L1846.6 2509.8 L1855.4 2513.1 L1862.7 2515.4 L1871.5 2516 L1880.3 2520.1 L1890.6 2521.3 L1900.8 2522.2 L1911.1 2523.6 L1922.8 2524.8 L1931.6 2528.3 L1941.9 2528.3 L1949.2 2526 L1956.6 2529.5 L1963.9 2531.2 L1972.7 2532.1 L1984.4 2533 L1991.8 2533.3" stroke="#ff0000" stroke-width="5.2"/>
<path d="M1219.2 2932.6 L1220.4 2909.6 L1222.6 2879 L1224.1 2856 L1226.1 2837.6 L1233 2829.1 L1246 2818.4 L1251.1 2804.6 L1256 2785.5 L1259.8 2772.4 L1263.7 2752.5 L1267.5 2739.5 L1271.3 2720.3 L1275.9 2706.5 L1281.9 2690 L1284.8 2679.1 L1293.6 2654.2 C1294.3 2652.5 1296.1 2648.8 1298 2643.9 C1300 2639 1303.1 2630 1305.3 2624.8 C1307.5 2619.7 1309 2618.2 1311.2 2613.1 C1313.4 2608 1316.3 2599.2 1318.5 2594 C1320.7 2588.9 1321.5 2587.2 1324.4 2582.3 C1327.3 2577.4 1333.2 2569.3 1336.1 2564.7 C1339.1 2560 1338.8 2558.7 1342 2554.4 C1345.2 2550.1 1350.8 2542.8 1355.2 2538.9 C1359.6 2535 1364 2534.2 1368.4 2531 C1372.8 2527.7 1377.1 2522.4 1381.6 2519.2 C1386.1 2516 1390.3 2514.9 1395.4 2511.9 C1400.5 2508.9 1407.1 2503.6 1412.4 2501 C1417.7 2498.4 1421.8 2498.1 1427.1 2496.3 C1432.4 2494.6 1438.5 2491.7 1444.1 2490.5 C1449.7 2489.2 1455.4 2489.4 1460.8 2489 C1466.3 2488.6 1471.7 2488.3 1477 2487.8 C1482.2 2487.3 1486.9 2487.1 1492.2 2486.1 C1497.5 2485 1503.1 2481.7 1508.6 2481.7 C1514.2 2481.7 1520 2485.4 1525.4 2486.1 C1530.7 2486.7 1535.8 2486.7 1540.9 2485.5 C1546.1 2484.3 1550.9 2480.7 1556.2 2479 C1561.4 2477.3 1566.9 2476 1572.3 2475.2 C1577.7 2474.4 1583.1 2474.2 1588.4 2474.3 C1593.8 2474.5 1599.3 2476.6 1604.6 2476.1 C1609.9 2475.6 1614.6 2473.4 1620.1 2471.4 C1625.7 2469.4 1632.7 2464.5 1637.7 2464.4 C1642.7 2464.3 1645.3 2469.6 1650.1 2470.8 C1654.8 2472 1661 2472.5 1666.1 2471.7 C1671.3 2470.9 1675.4 2466.6 1680.8 2465.8 C1686.2 2465.1 1693 2466.6 1698.4 2467.3 C1703.8 2468 1707.5 2470.2 1713.1 2469.9 C1718.6 2469.6 1725.8 2466.9 1731.6 2465.5 C1737.3 2464.2 1742.2 2461.2 1747.4 2462 C1752.6 2462.8 1758.1 2467.8 1762.9 2470.2 C1767.8 2472.7 1771.5 2475.3 1776.7 2476.7 C1782 2478.1 1788.7 2477.9 1794.3 2478.4 C1800 2479 1805.7 2478.5 1810.8 2480.2 C1815.8 2481.9 1819.6 2487 1824.6 2488.7 C1829.5 2490.5 1835.3 2490.4 1840.7 2490.8 C1846.1 2491.1 1851.7 2490.7 1856.8 2490.8 C1862 2490.9 1866.6 2489.2 1871.5 2491.4 C1876.4 2493.5 1881.1 2501.3 1886.2 2503.7 C1891.2 2506.1 1896.2 2505.8 1901.7 2505.7 C1907.2 2505.6 1913.8 2502.9 1919.3 2503.1 C1924.8 2503.3 1929.1 2504.9 1934.6 2506.9 C1940 2508.9 1946.5 2513.7 1952.2 2515.1 C1957.8 2516.5 1963 2514.4 1968.3 2515.1 C1973.6 2515.8 1979.8 2517.9 1983.9 2519.2 C1987.9 2520.5 1991.2 2522.4 1992.7 2523" stroke="#00ff00" stroke-width="5.1" stroke-dasharray="14.10 19.50" stroke-dashoffset="12.1"/>
<path d="M1219.2 2932.6 L1220.4 2909.6 L1222.3 2879 L1223.5 2856 L1224.6 2833 L1226.1 2819.9 L1229.9 2813.1 L1234.2 2821.5 L1241.4 2810 L1245.3 2797.7 L1249.1 2780.9 L1251.7 2767.8 L1254.5 2753.3 L1256.8 2739.5 L1259.4 2727.5 L1262.1 2714.2 L1265.5 2698.8 L1268.7 2690 L1273.1 2671.8 L1277.5 2658.6 L1281.9 2645.4 L1285.7 2632.2 L1290.7 2619 C1291.5 2616.7 1294 2609.9 1295.7 2605.4 C1297.4 2600.9 1299.2 2596.2 1300.9 2591.8 C1302.7 2587.5 1304.5 2583.3 1306.2 2579.1 C1307.9 2575 1309.4 2571 1311.2 2566.8 C1313 2562.6 1314.6 2558.2 1317.1 2553.8 C1319.5 2549.5 1323.2 2544.9 1325.9 2540.7 C1328.6 2536.5 1330.6 2532.7 1333.2 2528.8 C1335.8 2525 1337.3 2521.4 1341.4 2517.8 C1345.6 2514.1 1354.2 2510.4 1358.2 2507 C1362.1 2503.6 1362.3 2500.5 1364.9 2497.4 C1367.5 2494.3 1369.2 2491.3 1373.7 2488.4 C1378.2 2485.6 1387.3 2482.8 1391.9 2480.2 C1396.5 2477.6 1398 2475.1 1401.3 2472.9 C1404.6 2470.6 1406.8 2468.5 1411.8 2466.6 C1416.9 2464.6 1426.7 2462.7 1431.5 2461.3 C1436.2 2459.8 1437.1 2458.8 1440.3 2457.8 C1443.5 2456.9 1445.7 2456.4 1450.6 2455.4 C1455.5 2454.4 1465 2453 1469.6 2452 C1474.3 2450.9 1475 2450.1 1478.4 2449.2 C1481.9 2448.3 1485.3 2447.4 1490.2 2446.5 C1495.1 2445.5 1503.2 2444.2 1507.8 2443.5 C1512.3 2442.8 1514 2442.6 1517.4 2442.3 C1520.9 2441.9 1523.2 2441.9 1528.3 2441.4 C1533.4 2440.9 1542.9 2440.1 1548 2439.4 C1553 2438.8 1555 2438.1 1558.5 2437.6 C1562.1 2437.1 1564.1 2437 1569.4 2436.4 C1574.6 2435.8 1584.9 2434.8 1589.9 2434 C1594.9 2433.2 1596.4 2432 1599.6 2431.7 C1602.8 2431.3 1604.9 2431.8 1609 2431.8 C1613.1 2431.8 1619.9 2432 1624.2 2431.5 C1628.5 2431 1631.1 2429.6 1634.8 2428.6 C1638.5 2427.6 1641.6 2426.3 1646.5 2425.5 C1651.5 2424.7 1659.7 2424.1 1664.7 2423.7 C1669.6 2423.2 1672.6 2423.4 1676.4 2423 C1680.2 2422.6 1682.7 2422.1 1687.6 2421.5 C1692.4 2420.8 1700.8 2419.7 1705.7 2419 C1710.7 2418.3 1713.6 2417.8 1717.5 2417.3 C1721.4 2416.8 1724.8 2416.1 1729.2 2416.2 C1733.6 2416.2 1740.1 2416.8 1743.9 2417.6 C1747.7 2418.5 1748.8 2420.2 1752.1 2421.2 C1755.4 2422.3 1759.3 2423 1763.8 2424 C1768.3 2424.9 1774.6 2425.9 1779.1 2427 C1783.6 2428.1 1787.1 2429.4 1790.8 2430.5 C1794.5 2431.5 1796.4 2432.2 1801.1 2433.3 C1805.7 2434.3 1813.8 2435.7 1818.7 2436.8 C1823.6 2437.9 1826.7 2439 1830.4 2440 C1834.2 2441.1 1836.4 2442 1841.3 2443 C1846.2 2444 1854.6 2445.2 1859.8 2446 C1864.9 2446.7 1868.3 2446.9 1872.1 2447.7 C1875.8 2448.5 1878.3 2449.7 1882.3 2450.6 C1886.4 2451.6 1892.4 2452.8 1896.4 2453.7 C1900.5 2454.5 1903.4 2454.9 1906.7 2455.8 C1910 2456.7 1911.7 2458.2 1916.4 2459.2 C1921 2460.1 1929.7 2460.8 1934.6 2461.5 C1939.5 2462.2 1942.4 2462.6 1945.7 2463.6 C1949 2464.5 1949.8 2466.1 1954.5 2467.1 C1959.3 2468.2 1969.2 2469.3 1974.2 2470 C1979.2 2470.8 1982.7 2471.4 1984.4 2471.7" stroke="#0000ff" stroke-width="5.1" stroke-dasharray="17.40 11.50 2.10 11.20" stroke-dashoffset="2.0"/>
<path d="M1219.2 2932.6 L1220.1 2909.6 L1221.5 2879 L1223 2856 L1224.1 2833 L1225.6 2820.7 L1229.5 2809.2 L1240.4 2805.7 L1246 2794.7 L1250.2 2782.4 L1252.6 2770.1 L1255.4 2757.1 L1258.3 2744.1 L1260.9 2731.8 L1263.4 2719.8 L1265.5 2706.5 L1267.2 2690 L1270.1 2685 L1276 2657.1 L1279.8 2643.9 L1281.9 2633.6 L1286.9 2619.8 L1289.8 2607.2 L1293.6 2594 C1294.2 2592.2 1296 2586.5 1297.4 2582.9 C1298.9 2579.2 1300.6 2576 1302.4 2572 C1304.2 2568 1306.6 2563 1308.3 2558.8 C1310 2554.7 1311.4 2551 1312.7 2547.1 C1314 2543.2 1314.8 2539.3 1316.2 2535.4 C1317.6 2531.4 1319.4 2527.6 1320.9 2523.6 C1322.4 2519.6 1323.7 2515.3 1325.3 2511.3 C1326.9 2507.3 1328.4 2503.4 1330.3 2499.6 C1332.2 2495.8 1334.7 2492 1336.7 2488.4 C1338.8 2484.8 1340.2 2481.6 1342.6 2478.2 C1345 2474.7 1348.7 2471.3 1351.4 2467.9 C1354.1 2464.5 1356 2460.6 1359 2457.6 C1362.1 2454.6 1366.5 2452.4 1369.9 2449.7 C1373.3 2447 1376.3 2444.2 1379.6 2441.5 C1382.8 2438.7 1386.3 2436 1389.5 2433.3 C1392.8 2430.6 1395.7 2427.8 1399.2 2425.3 C1402.8 2422.9 1407.4 2420.8 1411 2418.6 C1414.5 2416.4 1416.7 2414.2 1420.6 2412.1 C1424.5 2410.1 1430.4 2407.4 1434.4 2406.3 C1438.4 2405.2 1440.6 2406.8 1444.7 2405.7 C1448.8 2404.6 1454.5 2401 1458.8 2399.8 C1463 2398.6 1466.5 2398 1470.2 2398.4 C1474 2398.7 1477.6 2402.3 1481.4 2401.9 C1485.2 2401.5 1489.2 2398.1 1493.1 2396 C1497 2393.9 1501.2 2390.3 1504.8 2389.3 C1508.5 2388.2 1511.4 2389.9 1515.1 2389.8 C1518.8 2389.8 1523 2389.1 1526.8 2389 C1530.7 2388.8 1533.7 2388.9 1538 2389 C1542.3 2389 1548.3 2388.8 1552.7 2389.3 C1557.1 2389.7 1560.6 2392.1 1564.4 2391.9 C1568.2 2391.7 1571.5 2389.3 1575.2 2388.1 C1579 2386.9 1583.1 2385.2 1587 2384.9 C1590.9 2384.6 1594.7 2387.1 1598.7 2386.3 C1602.8 2385.5 1607.2 2380.7 1611.3 2380.2 C1615.5 2379.7 1619.9 2383.3 1623.6 2383.4 C1627.4 2383.4 1630 2381.9 1633.9 2380.5 C1637.8 2379 1643.1 2375.9 1647.1 2374.6 C1651.2 2373.3 1654.2 2372.9 1658.2 2372.5 C1662.2 2372.2 1667.1 2371.9 1671.1 2372.5 C1675.1 2373.2 1678.6 2374.6 1682.3 2376.4 C1686 2378.1 1690.1 2383.1 1693.4 2382.8 C1696.7 2382.5 1698.7 2376.7 1701.9 2374.3 C1705.2 2371.9 1709.3 2369.8 1713.1 2368.1 C1716.9 2366.4 1720.9 2364 1724.8 2364 C1728.7 2364 1733.5 2365.7 1736.5 2368.1 C1739.6 2370.5 1740.7 2375 1743.3 2378.4 C1745.8 2381.8 1748.8 2386.8 1751.8 2388.7 C1754.8 2390.6 1757.9 2391.5 1761.5 2389.8 C1765 2388.2 1769.5 2381.6 1773.2 2379 C1776.9 2376.4 1780 2374.3 1783.5 2374.3 C1787 2374.3 1791.2 2376.9 1794.3 2379 C1797.5 2381 1799.1 2383.8 1802.6 2386.6 C1806 2389.5 1811 2393.4 1814.9 2396 C1818.8 2398.6 1821.9 2400.8 1826 2402.5 C1830.2 2404.1 1835.8 2405.3 1839.8 2405.7 C1843.9 2406.1 1846.2 2405.2 1850.4 2404.8 C1854.6 2404.5 1861.1 2403.1 1865 2403.6 C1868.9 2404.2 1870.2 2406.2 1873.8 2408 C1877.5 2409.8 1883.4 2412.2 1887 2414.5 C1890.7 2416.8 1892.1 2420.9 1895.8 2421.8 C1899.6 2422.8 1905.5 2420.7 1909.6 2420.1 C1913.8 2419.5 1916.7 2418.8 1920.8 2418.3 C1924.8 2417.8 1930.1 2417.2 1934 2417.1 C1937.9 2417.1 1940.3 2416.9 1944.2 2418 C1948.2 2419.1 1953.7 2421.8 1957.4 2423.9 C1961.2 2425.9 1963.1 2428.3 1966.8 2430.3 C1970.6 2432.4 1975.6 2434.4 1979.7 2436.2 C1983.9 2438 1989.8 2440.1 1991.8 2440.9" stroke="#ff00ff" stroke-width="4.3" stroke-dasharray="13.20 10.80 2.90 10.10 2.90 11.20" stroke-dashoffset="13.1"/>
</g>
<text class="a t" transform="translate(1194 2944.4) scale(1 1.13)" text-anchor="end">0</text>
<text class="a t" transform="translate(1194 2840.1) scale(1 1.13)" text-anchor="end">100</text>
<text class="a t" transform="translate(1194 2735.8) scale(1 1.13)" text-anchor="end">200</text>
<text class="a t" transform="translate(1194 2631.5) scale(1 1.13)" text-anchor="end">300</text>
<text class="a t" transform="translate(1194 2527.3) scale(1 1.13)" text-anchor="end">400</text>
<text class="a t" transform="translate(1194 2423) scale(1 1.13)" text-anchor="end">500</text>
<text class="a t" transform="translate(1194 2318.7) scale(1 1.13)" text-anchor="end">600</text>
<text class="a t" transform="translate(1194 2214.4) scale(1 1.13)" text-anchor="end">700</text>
<text class="a t" transform="translate(1218 2983.4) scale(1 1.13)" text-anchor="middle">0</text>
<text class="a t" transform="translate(1346.3 2983.4) scale(1 1.13)" text-anchor="middle">1</text>
<text class="a t" transform="translate(1474.6 2983.4) scale(1 1.13)" text-anchor="middle">2</text>
<text class="a t" transform="translate(1602.9 2983.4) scale(1 1.13)" text-anchor="middle">3</text>
<text class="a t" transform="translate(1731.1 2983.4) scale(1 1.13)" text-anchor="middle">4</text>
<text class="a t" transform="translate(1859.4 2983.4) scale(1 1.13)" text-anchor="middle">5</text>
<text class="a t" transform="translate(1987.7 2983.4) scale(1 1.13)" text-anchor="middle">6</text>
<text class="a t" transform="translate(2116 2983.4) scale(1 1.13)" text-anchor="middle">7</text>
<text class="a x" transform="translate(1667.3 3040.8) scale(1 1.03)" text-anchor="middle">Lateral Drift (%)</text>
<text class="a y" transform="translate(1128 2603.3) rotate(-90) scale(1 1.03)" text-anchor="middle">Lateral Force (kN)</text>
<rect x="1785.5" y="2704.5" width="323" height="225" fill="#fff" stroke="#000" stroke-width="1.15"/>
<path class="cv" d="M1803.4 2733 h81" stroke="#ff0000" stroke-width="5.2"/>
<text class="a l" transform="translate(1895 2745.5) scale(1.012 1.04)">f<tspan class="c" dy="11.7">c</tspan><tspan dy="-11.7">= 45 Mpa</tspan></text>
<path class="cv" d="M1803.3 2788.5 h81.1" stroke="#00ff00" stroke-width="5.1" stroke-dasharray="14.10 19.50"/>
<text class="a l" transform="translate(1895 2801) scale(1.012 1.04)">f<tspan class="c" dy="11.7">c</tspan><tspan dy="-11.7">= 56.3 Mpa</tspan></text>
<path class="cv" d="M1803.3 2844 h73.2" stroke="#0000ff" stroke-width="5.1" stroke-dasharray="17.40 11.50 2.10 11.20"/>
<text class="a l" transform="translate(1895 2856.5) scale(1.012 1.04)">f<tspan class="c" dy="11.7">c</tspan><tspan dy="-11.7">= 67.5 Mpa</tspan></text>
<path class="cv" d="M1803 2899.5 h77.9" stroke="#ff00ff" stroke-width="4.3" stroke-dasharray="13.20 10.80 2.90 10.10 2.90 11.20"/>
<text class="a l" transform="translate(1895 2912) scale(1.012 1.04)">f<tspan class="c" dy="11.7">c</tspan><tspan dy="-11.7">= 90 Mpa</tspan></text>
<text class="s d" transform="translate(1547.8 3098.3) scale(1 1.035)">Y-direction</text>
</g>
<text class="s k" y="1053"><tspan x="910.7" textLength="22.6" lengthAdjust="spacingAndGlyphs">(</tspan><tspan x="934.6" textLength="36.3" lengthAdjust="spacingAndGlyphs" font-weight="bold">a</tspan><tspan x="971.8" textLength="23.5" lengthAdjust="spacingAndGlyphs">)</tspan> <tspan x="1015" textLength="162.2" lengthAdjust="spacingAndGlyphs">KCC</tspan> <tspan x="1193.7" textLength="230.8" lengthAdjust="spacingAndGlyphs">model.</tspan></text>
<text class="s k" y="2127.3"><tspan x="908.8" textLength="22.6" lengthAdjust="spacingAndGlyphs">(</tspan><tspan x="931.8" textLength="45" lengthAdjust="spacingAndGlyphs" font-weight="bold">b</tspan><tspan x="978.3" textLength="24.1" lengthAdjust="spacingAndGlyphs">)</tspan> <tspan x="1020.5" textLength="158.1" lengthAdjust="spacingAndGlyphs">CDP</tspan> <tspan x="1196.4" textLength="229.6" lengthAdjust="spacingAndGlyphs">model.</tspan></text>
<text class="s k" y="3201"><tspan x="852.6" textLength="24.2" lengthAdjust="spacingAndGlyphs">(</tspan><tspan x="876.1" textLength="35" lengthAdjust="spacingAndGlyphs" font-weight="bold">c</tspan><tspan x="909.2" textLength="25.3" lengthAdjust="spacingAndGlyphs">)</tspan> <tspan x="953.9" textLength="278.7" lengthAdjust="spacingAndGlyphs">Winfrith</tspan> <tspan x="1252.3" textLength="228.5" lengthAdjust="spacingAndGlyphs">model.</tspan></text>
</svg>
</body>
</html>
